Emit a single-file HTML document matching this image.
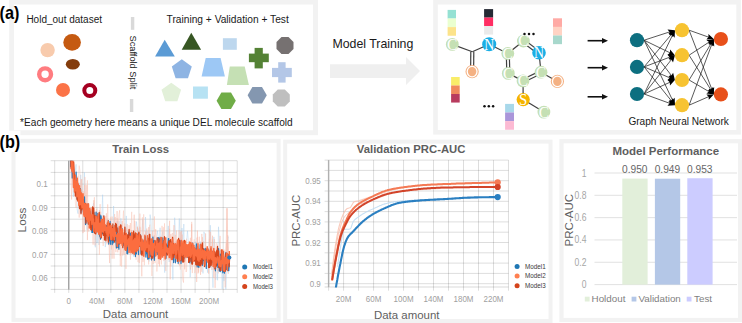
<!DOCTYPE html>
<html><head><meta charset="utf-8"><style>
html,body{margin:0;padding:0;background:#fff;}
body{width:742px;height:323px;overflow:hidden;}
svg{display:block;}
</style></head><body>
<svg width="742" height="323" viewBox="0 0 742 323">
<rect width="742" height="323" fill="#fff"/>
<rect x="11.6" y="2.1" width="303.90" height="130.60" fill="none" stroke="#f2f2f2" stroke-width="4.9"/>
<rect x="435.5" y="2.2" width="303.10" height="130.10" fill="none" stroke="#f2f2f2" stroke-width="4.6"/>
<text x="26.4" y="22.8" font-family='"Liberation Sans", sans-serif' font-size="10" fill="#1a1a1a" font-weight="normal" text-anchor="start" >Hold_out dataset</text>
<text x="166.6" y="22.8" font-family='"Liberation Sans", sans-serif' font-size="10.2" fill="#1a1a1a" font-weight="normal" text-anchor="start" >Training + Validation + Test</text>
<text x="20.1" y="125.9" font-family='"Liberation Sans", sans-serif' font-size="10.12" fill="#1a1a1a" font-weight="normal" text-anchor="start" >*Each geometry here means a unique DEL molecule scaffold</text>
<rect x="130.9" y="17" width="3.4" height="12.8" fill="#d9d9d9"/>
<rect x="129.9" y="99" width="3.4" height="13" fill="#d9d9d9"/>
<text x="0" y="0" transform="translate(129.6,35.5) rotate(90)" font-family='"Liberation Sans", sans-serif' font-size="9.25" fill="#1a1a1a">Scaffold Split</text>
<circle cx="47.6" cy="50.1" r="7.2" fill="#f8cbad"/>
<ellipse cx="72.1" cy="42.4" rx="8.8" ry="8.4" fill="#c55a11"/>
<ellipse cx="72.8" cy="64.3" rx="7" ry="5.3" fill="#843c0c"/>
<circle cx="45.1" cy="74.3" r="5.9" fill="none" stroke="#ff7c80" stroke-width="4.4"/>
<circle cx="63" cy="89.9" r="7" fill="#fb7347"/>
<circle cx="89.8" cy="90.5" r="5.5" fill="none" stroke="#a50021" stroke-width="4"/>
<polygon points="164.70,39.70 155.10,56.40 174.80,56.40" fill="#5b9bd5"/>
<polygon points="191.30,32.70 181.70,49.80 201.10,49.80" fill="#375623"/>
<rect x="222.9" y="38.2" width="13.9" height="11.6" fill="#bdd7ee"/>
<polygon points="293.50,49.02 288.52,54.00 281.48,54.00 276.50,49.02 276.50,41.98 281.48,37.00 288.52,37.00 293.50,41.98" fill="#767171"/>
<polygon points="181.80,59.30 191.79,66.56 187.97,78.29 175.63,78.29 171.81,66.56" fill="#8eb4e3"/>
<polygon points="205.70,58.10 220.60,58.10 224.90,76.60 201.60,76.60" fill="#9dc8f5"/>
<rect x="254.6" y="47.9" width="8.20" height="20.50" fill="#548235"/>
<rect x="248.9" y="53.6" width="19.90" height="8.60" fill="#548235"/>
<polygon points="229.80,66.40 244.70,66.40 248.90,85.00 226.90,85.00" fill="#c5e0b4"/>
<rect x="278.2" y="62.2" width="7.40" height="20.40" fill="#b4c7e7"/>
<rect x="272" y="67.9" width="19.80" height="9.20" fill="#b4c7e7"/>
<polygon points="171.30,82.70 181.10,89.82 177.35,101.33 165.25,101.33 161.50,89.82" fill="#e2f0d9"/>
<rect x="193" y="86.5" width="14.9" height="12.2" fill="#b7e2f3"/>
<polygon points="235.80,100.70 231.00,109.01 221.40,109.01 216.60,100.70 221.40,92.39 231.00,92.39" fill="#70ad47"/>
<polygon points="266.80,95.20 262.00,103.51 252.40,103.51 247.60,95.20 252.40,86.89 262.00,86.89" fill="#8497b0"/>
<polygon points="289.80,101.52 284.82,106.50 277.78,106.50 272.80,101.52 272.80,94.48 277.78,89.50 284.82,89.50 289.80,94.48" fill="#bfbfbf"/>
<polygon points="330.00,64.20 406.00,64.20 406.00,57.00 420.00,71.00 406.00,85.00 406.00,78.00 330.00,78.00" fill="#efefef"/>
<text x="332.4" y="48.1" font-family='"Liberation Sans", sans-serif' font-size="12.35" fill="#1a1a1a" font-weight="normal" text-anchor="start" >Model Training</text>
<line x1="452.3" y1="44.4" x2="472.3" y2="51.7" stroke="#404040" stroke-width="1.2"/>
<line x1="472.3" y1="51.7" x2="489.2" y2="44.2" stroke="#404040" stroke-width="1.2"/>
<line x1="470.8000757499243" y1="51.684925384421355" x2="470.6000757499243" y2="71.58492538442134" stroke="#404040" stroke-width="1.2"/>
<line x1="473.7999242500757" y1="51.71507461557865" x2="473.59992425007573" y2="71.61507461557865" stroke="#404040" stroke-width="1.2"/>
<line x1="489.2" y1="44.2" x2="507.8" y2="53.5" stroke="#404040" stroke-width="1.2"/>
<line x1="507.8" y1="53.5" x2="523.4" y2="41.0" stroke="#404040" stroke-width="1.2"/>
<line x1="522.4950995930648" y1="42.196309012558416" x2="538.0950995930648" y2="53.99630901255841" stroke="#404040" stroke-width="1.2"/>
<line x1="524.3049004069352" y1="39.803690987441584" x2="539.9049004069352" y2="51.60369098744158" stroke="#404040" stroke-width="1.2"/>
<line x1="539.0" y1="52.8" x2="541.0" y2="72.2" stroke="#404040" stroke-width="1.2"/>
<line x1="540.3472470091896" y1="70.84947657073708" x2="522.3472470091896" y2="79.54947657073708" stroke="#404040" stroke-width="1.2"/>
<line x1="541.6527529908104" y1="73.55052342926292" x2="523.6527529908104" y2="82.25052342926293" stroke="#404040" stroke-width="1.2"/>
<line x1="523.0" y1="80.9" x2="508.3" y2="73.4" stroke="#404040" stroke-width="1.2"/>
<line x1="509.79952675116664" y1="73.36232344846316" x2="509.29952675116664" y2="53.46232344846315" stroke="#404040" stroke-width="1.2"/>
<line x1="506.8004732488334" y1="73.43767655153685" x2="506.3004732488334" y2="53.53767655153685" stroke="#404040" stroke-width="1.2"/>
<line x1="541.0" y1="72.2" x2="557.4" y2="81.4" stroke="#404040" stroke-width="1.2"/>
<line x1="523.0" y1="80.9" x2="523.2" y2="99.6" stroke="#404040" stroke-width="1.2"/>
<line x1="523.2" y1="99.6" x2="543.9" y2="112.1" stroke="#404040" stroke-width="1.2"/>
<circle cx="452.3" cy="44.4" r="6.4" fill="#c5e0b4"/>
<text transform="translate(452.3,49.84) scale(0.95,1)" x="0" y="0" font-family='"Liberation Serif", serif' font-size="16.5" fill="#fff" text-anchor="middle">C</text>
<circle cx="507.8" cy="53.5" r="6.4" fill="#c5e0b4"/>
<text transform="translate(507.8,58.95) scale(0.95,1)" x="0" y="0" font-family='"Liberation Serif", serif' font-size="16.5" fill="#fff" text-anchor="middle">C</text>
<circle cx="523.4" cy="41.0" r="6.4" fill="#c5e0b4"/>
<text transform="translate(523.4,46.45) scale(0.95,1)" x="0" y="0" font-family='"Liberation Serif", serif' font-size="16.5" fill="#fff" text-anchor="middle">C</text>
<circle cx="508.3" cy="73.4" r="6.4" fill="#c5e0b4"/>
<text transform="translate(508.3,78.84) scale(0.95,1)" x="0" y="0" font-family='"Liberation Serif", serif' font-size="16.5" fill="#fff" text-anchor="middle">C</text>
<circle cx="523.0" cy="80.9" r="6.4" fill="#c5e0b4"/>
<text transform="translate(523.0,86.34) scale(0.95,1)" x="0" y="0" font-family='"Liberation Serif", serif' font-size="16.5" fill="#fff" text-anchor="middle">C</text>
<circle cx="541.0" cy="72.2" r="6.4" fill="#c5e0b4"/>
<text transform="translate(541.0,77.65) scale(0.95,1)" x="0" y="0" font-family='"Liberation Serif", serif' font-size="16.5" fill="#fff" text-anchor="middle">C</text>
<circle cx="543.9" cy="112.1" r="6.4" fill="#c5e0b4"/>
<text transform="translate(543.9,117.54) scale(0.95,1)" x="0" y="0" font-family='"Liberation Serif", serif' font-size="16.5" fill="#fff" text-anchor="middle">C</text>
<circle cx="489.2" cy="44.2" r="7.0" fill="#1aaee5"/>
<text transform="translate(489.2,49.81) scale(0.82,1)" x="0" y="0" font-family='"Liberation Serif", serif' font-size="17" fill="#fff" text-anchor="middle">N</text>
<circle cx="539.0" cy="52.8" r="6.8" fill="#1aaee5"/>
<text transform="translate(539.0,58.41) scale(0.82,1)" x="0" y="0" font-family='"Liberation Serif", serif' font-size="17" fill="#fff" text-anchor="middle">N</text>
<circle cx="472.1" cy="71.6" r="6.6" fill="#f4b183"/>
<ellipse cx="472.1" cy="71.6" rx="4.9" ry="5.3" fill="none" stroke="#fff" stroke-width="1.3"/>
<circle cx="557.4" cy="81.4" r="6.6" fill="#f4b183"/>
<ellipse cx="557.4" cy="81.4" rx="4.9" ry="5.3" fill="none" stroke="#fff" stroke-width="1.3"/>
<circle cx="523.2" cy="99.6" r="6.6" fill="#f5b400"/>
<text transform="translate(523.2,105.04) scale(0.9,1)" x="0" y="0" font-family='"Liberation Serif", serif' font-size="16.5" fill="#fff" text-anchor="middle">S</text>
<circle cx="524.5" cy="34.1" r="1.25" fill="#111"/>
<circle cx="529" cy="34.1" r="1.25" fill="#111"/>
<circle cx="533.5" cy="34.1" r="1.25" fill="#111"/>
<circle cx="484.5" cy="106.2" r="1.25" fill="#111"/>
<circle cx="488.8" cy="106.2" r="1.25" fill="#111"/>
<circle cx="493.1" cy="106.2" r="1.25" fill="#111"/>
<rect x="447.6" y="9.90" width="8.4" height="8.65" fill="#95e1d3"/>
<rect x="447.6" y="18.50" width="8.4" height="8.65" fill="#eaffd0"/>
<rect x="447.6" y="27.10" width="8.4" height="8.65" fill="#fce38a"/>
<rect x="484.1" y="9.10" width="9.0" height="8.52" fill="#252a34"/>
<rect x="484.1" y="17.57" width="9.0" height="8.52" fill="#ff2e63"/>
<rect x="484.1" y="26.04" width="9.0" height="8.52" fill="#eaeaea"/>
<rect x="451.1" y="77.00" width="8.6" height="8.55" fill="#f9ed69"/>
<rect x="451.1" y="85.50" width="8.6" height="8.55" fill="#f08a5d"/>
<rect x="451.1" y="94.00" width="8.6" height="8.55" fill="#b83b5e"/>
<rect x="505.1" y="103.90" width="8.9" height="8.65" fill="#a8d8ea"/>
<rect x="505.1" y="112.50" width="8.9" height="8.65" fill="#aa96da"/>
<rect x="505.1" y="121.10" width="8.9" height="8.65" fill="#fcbad3"/>
<rect x="553.0" y="18.30" width="9.0" height="8.65" fill="#ffaaa5"/>
<rect x="553.0" y="26.90" width="9.0" height="8.65" fill="#ffd3c4"/>
<rect x="553.0" y="35.50" width="9.0" height="8.65" fill="#a8d8cc"/>
<line x1="587.6" y1="40.7" x2="603" y2="40.7" stroke="#111" stroke-width="1.6"/>
<polygon points="608.00,40.70 602.00,37.90 602.00,43.50" fill="#111"/>
<line x1="587.6" y1="67.7" x2="603" y2="67.7" stroke="#111" stroke-width="1.6"/>
<polygon points="608.00,67.70 602.00,64.90 602.00,70.50" fill="#111"/>
<line x1="587.6" y1="96.8" x2="603" y2="96.8" stroke="#111" stroke-width="1.6"/>
<polygon points="608.00,96.80 602.00,94.00 602.00,99.60" fill="#111"/>
<line x1="644.10" y1="40.20" x2="671.10" y2="31.44" stroke="#222" stroke-width="0.75"/>
<polygon points="674.90,30.20 669.36,35.15 669.57,31.93 667.51,29.45" fill="#000"/>
<line x1="644.10" y1="40.20" x2="671.30" y2="53.45" stroke="#222" stroke-width="0.75"/>
<polygon points="674.90,55.20 667.47,54.92 669.87,52.75 670.10,49.53" fill="#000"/>
<line x1="644.10" y1="40.20" x2="672.45" y2="76.84" stroke="#222" stroke-width="0.75"/>
<polygon points="674.90,80.00 668.37,76.46 671.47,75.57 673.11,72.79" fill="#000"/>
<line x1="644.10" y1="40.20" x2="673.19" y2="101.59" stroke="#222" stroke-width="0.75"/>
<polygon points="674.90,105.20 669.28,100.34 672.50,100.14 674.70,97.77" fill="#000"/>
<line x1="644.10" y1="66.90" x2="672.33" y2="33.26" stroke="#222" stroke-width="0.75"/>
<polygon points="674.90,30.20 672.83,37.34 671.30,34.49 668.23,33.48" fill="#000"/>
<line x1="644.10" y1="66.90" x2="671.16" y2="56.62" stroke="#222" stroke-width="0.75"/>
<polygon points="674.90,55.20 669.61,60.42 669.66,57.19 667.48,54.81" fill="#000"/>
<line x1="644.10" y1="66.90" x2="671.22" y2="78.43" stroke="#222" stroke-width="0.75"/>
<polygon points="674.90,80.00 667.47,80.10 669.75,77.81 669.82,74.58" fill="#000"/>
<line x1="644.10" y1="66.90" x2="672.39" y2="102.08" stroke="#222" stroke-width="0.75"/>
<polygon points="674.90,105.20 668.30,101.78 671.39,100.84 672.98,98.02" fill="#000"/>
<line x1="644.10" y1="94.00" x2="673.16" y2="33.80" stroke="#222" stroke-width="0.75"/>
<polygon points="674.90,30.20 674.65,37.63 672.47,35.24 669.24,35.02" fill="#000"/>
<line x1="644.10" y1="94.00" x2="672.41" y2="58.33" stroke="#222" stroke-width="0.75"/>
<polygon points="674.90,55.20 673.02,62.39 671.42,59.59 668.32,58.66" fill="#000"/>
<line x1="644.10" y1="94.00" x2="671.26" y2="81.66" stroke="#222" stroke-width="0.75"/>
<polygon points="674.90,80.00 669.95,85.54 669.80,82.32 667.47,80.08" fill="#000"/>
<line x1="644.10" y1="94.00" x2="671.14" y2="103.83" stroke="#222" stroke-width="0.75"/>
<polygon points="674.90,105.20 667.48,105.70 669.64,103.29 669.53,100.06" fill="#000"/>
<line x1="689.10" y1="30.20" x2="710.03" y2="37.66" stroke="#222" stroke-width="0.75"/>
<polygon points="713.80,39.00 706.39,39.54 708.52,37.12 708.40,33.89" fill="#000"/>
<line x1="689.10" y1="30.20" x2="712.36" y2="90.67" stroke="#222" stroke-width="0.75"/>
<polygon points="713.80,94.40 708.56,89.13 711.79,89.17 714.16,86.98" fill="#000"/>
<line x1="689.10" y1="55.20" x2="710.46" y2="41.19" stroke="#222" stroke-width="0.75"/>
<polygon points="713.80,39.00 709.76,45.24 709.12,42.07 706.47,40.22" fill="#000"/>
<line x1="689.10" y1="55.20" x2="711.67" y2="91.02" stroke="#222" stroke-width="0.75"/>
<polygon points="713.80,94.40 707.64,90.25 710.81,89.66 712.71,87.05" fill="#000"/>
<line x1="689.10" y1="80.00" x2="711.74" y2="42.43" stroke="#222" stroke-width="0.75"/>
<polygon points="713.80,39.00 712.86,46.37 710.91,43.80 707.72,43.28" fill="#000"/>
<line x1="689.10" y1="80.00" x2="710.34" y2="92.39" stroke="#222" stroke-width="0.75"/>
<polygon points="713.80,94.40 706.41,93.57 708.96,91.58 709.44,88.38" fill="#000"/>
<line x1="689.10" y1="105.20" x2="712.40" y2="42.75" stroke="#222" stroke-width="0.75"/>
<polygon points="713.80,39.00 714.23,46.42 711.84,44.25 708.61,44.32" fill="#000"/>
<line x1="689.10" y1="105.20" x2="710.14" y2="96.00" stroke="#222" stroke-width="0.75"/>
<polygon points="713.80,94.40 708.77,99.87 708.67,96.64 706.37,94.38" fill="#000"/>
<circle cx="637.0" cy="40.2" r="7.1" fill="#0d6f80"/>
<circle cx="637.0" cy="66.9" r="7.1" fill="#0d6f80"/>
<circle cx="637.0" cy="94.0" r="7.1" fill="#0d6f80"/>
<circle cx="682.0" cy="30.2" r="7.1" fill="#f7c331"/>
<circle cx="682.0" cy="55.2" r="7.1" fill="#f7c331"/>
<circle cx="682.0" cy="80.0" r="7.1" fill="#f7c331"/>
<circle cx="682.0" cy="105.2" r="7.1" fill="#f7c331"/>
<circle cx="720.9" cy="39.0" r="7.1" fill="#e8501a"/>
<circle cx="720.9" cy="94.4" r="7.1" fill="#e8501a"/>
<text x="628.4" y="125.1" font-family='"Liberation Sans", sans-serif' font-size="10.1" fill="#1a1a1a" font-weight="normal" text-anchor="start" >Graph Neural Network</text>
<rect x="13.5" y="140.8" width="265.10" height="179.10" fill="none" stroke="#f2f2f2" stroke-width="4"/>
<rect x="285.2" y="141.6" width="265.30" height="179.40" fill="none" stroke="#f2f2f2" stroke-width="4"/>
<rect x="561.5" y="141.2" width="178.60" height="178.80" fill="none" stroke="#f2f2f2" stroke-width="4.2"/>
<line x1="54.70" y1="160.7" x2="54.70" y2="292.9" stroke="#000" stroke-opacity="0.16" stroke-width="0.85"/>
<line x1="68.74" y1="160.7" x2="68.74" y2="292.9" stroke="#000" stroke-opacity="0.16" stroke-width="0.85"/>
<line x1="82.78" y1="160.7" x2="82.78" y2="292.9" stroke="#000" stroke-opacity="0.16" stroke-width="0.85"/>
<line x1="96.82" y1="160.7" x2="96.82" y2="292.9" stroke="#000" stroke-opacity="0.16" stroke-width="0.85"/>
<line x1="110.86" y1="160.7" x2="110.86" y2="292.9" stroke="#000" stroke-opacity="0.16" stroke-width="0.85"/>
<line x1="124.90" y1="160.7" x2="124.90" y2="292.9" stroke="#000" stroke-opacity="0.16" stroke-width="0.85"/>
<line x1="138.94" y1="160.7" x2="138.94" y2="292.9" stroke="#000" stroke-opacity="0.16" stroke-width="0.85"/>
<line x1="152.98" y1="160.7" x2="152.98" y2="292.9" stroke="#000" stroke-opacity="0.16" stroke-width="0.85"/>
<line x1="167.02" y1="160.7" x2="167.02" y2="292.9" stroke="#000" stroke-opacity="0.16" stroke-width="0.85"/>
<line x1="181.06" y1="160.7" x2="181.06" y2="292.9" stroke="#000" stroke-opacity="0.16" stroke-width="0.85"/>
<line x1="195.10" y1="160.7" x2="195.10" y2="292.9" stroke="#000" stroke-opacity="0.16" stroke-width="0.85"/>
<line x1="209.14" y1="160.7" x2="209.14" y2="292.9" stroke="#000" stroke-opacity="0.16" stroke-width="0.85"/>
<line x1="223.18" y1="160.7" x2="223.18" y2="292.9" stroke="#000" stroke-opacity="0.16" stroke-width="0.85"/>
<line x1="237.22" y1="160.7" x2="237.22" y2="292.9" stroke="#000" stroke-opacity="0.16" stroke-width="0.85"/>
<line x1="50.7" y1="160.70" x2="237.2" y2="160.70" stroke="#000" stroke-opacity="0.16" stroke-width="0.85"/>
<line x1="50.7" y1="172.40" x2="237.2" y2="172.40" stroke="#000" stroke-opacity="0.16" stroke-width="0.85"/>
<line x1="50.7" y1="184.10" x2="237.2" y2="184.10" stroke="#000" stroke-opacity="0.16" stroke-width="0.85"/>
<line x1="50.7" y1="195.80" x2="237.2" y2="195.80" stroke="#000" stroke-opacity="0.16" stroke-width="0.85"/>
<line x1="50.7" y1="207.50" x2="237.2" y2="207.50" stroke="#000" stroke-opacity="0.16" stroke-width="0.85"/>
<line x1="50.7" y1="219.20" x2="237.2" y2="219.20" stroke="#000" stroke-opacity="0.16" stroke-width="0.85"/>
<line x1="50.7" y1="230.90" x2="237.2" y2="230.90" stroke="#000" stroke-opacity="0.16" stroke-width="0.85"/>
<line x1="50.7" y1="242.60" x2="237.2" y2="242.60" stroke="#000" stroke-opacity="0.16" stroke-width="0.85"/>
<line x1="50.7" y1="254.30" x2="237.2" y2="254.30" stroke="#000" stroke-opacity="0.16" stroke-width="0.85"/>
<line x1="50.7" y1="266.00" x2="237.2" y2="266.00" stroke="#000" stroke-opacity="0.16" stroke-width="0.85"/>
<line x1="50.7" y1="277.70" x2="237.2" y2="277.70" stroke="#000" stroke-opacity="0.16" stroke-width="0.85"/>
<line x1="50.7" y1="289.4" x2="237.2" y2="289.4" stroke="#000" stroke-opacity="0.17" stroke-width="0.9"/>
<line x1="68.7" y1="160.7" x2="68.7" y2="289.4" stroke="#a4a4a4" stroke-width="1.4"/>
<text transform="translate(47.60,187.40) scale(1,1.15)" x="0" y="0" font-family='"Liberation Sans", sans-serif' font-size="8" fill="#a0a0a0" text-anchor="end">0.1</text>
<text transform="translate(47.60,210.80) scale(1,1.15)" x="0" y="0" font-family='"Liberation Sans", sans-serif' font-size="8" fill="#a0a0a0" text-anchor="end">0.09</text>
<text transform="translate(47.60,234.20) scale(1,1.15)" x="0" y="0" font-family='"Liberation Sans", sans-serif' font-size="8" fill="#a0a0a0" text-anchor="end">0.08</text>
<text transform="translate(47.60,257.60) scale(1,1.15)" x="0" y="0" font-family='"Liberation Sans", sans-serif' font-size="8" fill="#a0a0a0" text-anchor="end">0.07</text>
<text transform="translate(47.60,281.00) scale(1,1.15)" x="0" y="0" font-family='"Liberation Sans", sans-serif' font-size="8" fill="#a0a0a0" text-anchor="end">0.06</text>
<text transform="translate(68.70,303.70) scale(1,1.15)" x="0" y="0" font-family='"Liberation Sans", sans-serif' font-size="8" fill="#a0a0a0" text-anchor="middle">0</text>
<text transform="translate(96.78,303.70) scale(1,1.15)" x="0" y="0" font-family='"Liberation Sans", sans-serif' font-size="8" fill="#a0a0a0" text-anchor="middle">40M</text>
<text transform="translate(124.86,303.70) scale(1,1.15)" x="0" y="0" font-family='"Liberation Sans", sans-serif' font-size="8" fill="#a0a0a0" text-anchor="middle">80M</text>
<text transform="translate(152.94,303.70) scale(1,1.15)" x="0" y="0" font-family='"Liberation Sans", sans-serif' font-size="8" fill="#a0a0a0" text-anchor="middle">120M</text>
<text transform="translate(181.02,303.70) scale(1,1.15)" x="0" y="0" font-family='"Liberation Sans", sans-serif' font-size="8" fill="#a0a0a0" text-anchor="middle">160M</text>
<text transform="translate(209.10,303.70) scale(1,1.15)" x="0" y="0" font-family='"Liberation Sans", sans-serif' font-size="8" fill="#a0a0a0" text-anchor="middle">200M</text>
<text x="112.2" y="153.0" font-family='"Liberation Sans", sans-serif' font-size="11.4" fill="#5e5e5e" font-weight="bold" text-anchor="start" >Train Loss</text>
<text x="102.8" y="318.0" font-family='"Liberation Sans", sans-serif' font-size="11.45" fill="#5e5e5e" font-weight="normal" text-anchor="start" >Data amount</text>
<text x="0" y="0" transform="translate(25.9,232.4) rotate(-90)" font-family='"Liberation Sans", sans-serif' font-size="11.8" fill="#5e5e5e">Loss</text>
<clipPath id="c1"><rect x="54.7" y="160.7" width="182.5" height="128.7"/></clipPath>
<g clip-path="url(#c1)">
<polyline points="69.8,166.2 70.7,145.5 71.6,141.4 72.5,176.6 73.4,196.8 74.3,177.0 75.2,171.6 76.1,164.4 77.1,209.3 78.0,213.7 78.9,182.7 79.8,190.3 80.7,174.8 81.6,185.9 82.5,205.3 83.4,209.8 84.4,172.3 85.3,213.4 86.2,222.8 87.1,229.9 88.0,212.6 88.9,212.7 89.8,221.0 90.7,217.6 91.7,213.5 92.6,208.2 93.5,203.2 94.4,217.2 95.3,247.3 96.2,211.5 97.1,243.0 98.0,225.5 99.0,245.0 99.9,224.3 100.8,236.2 101.7,222.5 102.6,194.7 103.5,227.6 104.4,215.5 105.3,247.1 106.3,232.9 107.2,219.8 108.1,231.0 109.0,224.9 109.9,229.2 110.8,245.4 111.7,223.6 112.6,243.6 113.6,206.0 114.5,240.1 115.4,223.7 116.3,233.9 117.2,220.9 118.1,243.4 119.0,221.2 119.9,237.5 120.9,218.4 121.8,227.9 122.7,235.2 123.6,248.6 124.5,227.2 125.4,232.0 126.3,215.9 127.2,244.9 128.2,232.3 129.1,233.4 130.0,237.1 130.9,238.7 131.8,239.3 132.7,250.5 133.6,256.6 134.5,248.1 135.5,234.3 136.4,221.5 137.3,229.2 138.2,228.4 139.1,232.4 140.0,233.7 140.9,241.2 141.8,233.1 142.8,219.1 143.7,249.0 144.6,254.3 145.5,217.1 146.4,241.5 147.3,231.4 148.2,233.0 149.1,261.5 150.1,214.6 151.0,220.8 151.9,243.5 152.8,235.6 153.7,244.5 154.6,258.9 155.5,248.1 156.4,241.3 157.4,230.9 158.3,236.7 159.2,246.0 160.1,227.8 161.0,257.7 161.9,235.9 162.8,231.5 163.8,251.4 164.7,272.6 165.6,260.2 166.5,244.2 167.4,240.2 168.3,225.9 169.2,262.0 170.1,248.0 171.1,239.0 172.0,250.5 172.9,279.5 173.8,237.2 174.7,217.7 175.6,234.7 176.5,262.0 177.4,255.0 178.4,246.2 179.3,218.5 180.2,240.9 181.1,248.2 182.0,228.0 182.9,251.2 183.8,224.0 184.7,260.1 185.7,257.3 186.6,240.6 187.5,230.9 188.4,242.0 189.3,247.1 190.2,277.2 191.1,261.8 192.0,260.5 193.0,259.6 193.9,244.0 194.8,257.2 195.7,241.6 196.6,251.7 197.5,257.8 198.4,251.6 199.3,247.4 200.3,241.5 201.2,260.5 202.1,257.3 203.0,273.4 203.9,231.8 204.8,234.2 205.7,257.4 206.6,261.8 207.6,272.7 208.5,253.1 209.4,252.8 210.3,225.2 211.2,252.7 212.1,267.3 213.0,287.6 213.9,236.9 214.9,254.3 215.8,279.9 216.7,254.9 217.6,280.3 218.5,226.8 219.4,242.3 220.3,250.2 221.2,261.0 222.2,288.9 223.1,260.7 224.0,281.1 224.9,251.0 225.8,289.6 226.7,272.4 227.6,242.5 228.5,236.6" fill="none" stroke="#a9cfee" stroke-width="0.8" stroke-opacity="0.5" stroke-linejoin="round"/>
<polyline points="69.8,169.9 70.4,144.4 71.0,164.4 71.6,171.5 72.3,146.6 72.9,167.3 73.5,176.9 74.2,142.0 74.8,187.2 75.4,203.9 76.1,208.0 76.7,195.5 77.3,177.6 78.0,176.9 78.6,174.7 79.2,165.7 79.9,170.5 80.5,189.1 81.1,179.4 81.8,191.4 82.4,211.7 83.0,191.1 83.7,204.2 84.3,209.5 84.9,176.9 85.5,196.9 86.2,217.1 86.8,212.2 87.4,180.3 88.1,217.0 88.7,203.0 89.3,205.4 90.0,207.6 90.6,207.1 91.2,223.4 91.9,223.7 92.5,219.9 93.1,223.4 93.8,207.2 94.4,197.2 95.0,232.9 95.7,212.7 96.3,235.0 96.9,231.3 97.6,225.3 98.2,220.8 98.8,229.0 99.4,254.8 100.1,204.1 100.7,228.0 101.3,233.6 102.0,215.4 102.6,233.9 103.2,246.0 103.9,219.5 104.5,221.0 105.1,238.9 105.8,216.0 106.4,222.9 107.0,244.3 107.7,204.3 108.3,225.3 108.9,245.2 109.6,223.4 110.2,228.3 110.8,216.8 111.5,249.5 112.1,216.5 112.7,218.2 113.3,222.0 114.0,223.5 114.6,214.0 115.2,222.6 115.9,231.2 116.5,244.9 117.1,218.2 117.8,220.3 118.4,230.1 119.0,232.4 119.7,224.9 120.3,266.0 120.9,231.1 121.6,266.6 122.2,232.8 122.8,221.9 123.5,210.6 124.1,243.7 124.7,231.5 125.4,238.8 126.0,268.9 126.6,228.5 127.2,239.1 127.9,238.3 128.5,252.7 129.1,240.5 129.8,239.2 130.4,223.0 131.0,237.0 131.7,211.9 132.3,247.0 132.9,245.1 133.6,242.3 134.2,253.0 134.8,221.0 135.5,233.1 136.1,259.7 136.7,240.8 137.4,226.5 138.0,262.1 138.6,240.6 139.3,246.1 139.9,213.6 140.5,237.3 141.1,248.8 141.8,251.1 142.4,217.3 143.0,250.0 143.7,214.3 144.3,265.4 144.9,246.6 145.6,247.4 146.2,253.9 146.8,247.3 147.5,234.9 148.1,253.8 148.7,264.5 149.4,226.3 150.0,224.7 150.6,254.7 151.3,241.0 151.9,276.0 152.5,231.1 153.2,264.0 153.8,253.3 154.4,216.4 155.0,263.2 155.7,245.6 156.3,260.7 156.9,271.5 157.6,262.1 158.2,242.4 158.8,264.2 159.5,254.4 160.1,236.2 160.7,248.5 161.4,264.5 162.0,225.8 162.6,244.8 163.3,227.2 163.9,261.1 164.5,223.4 165.2,265.4 165.8,270.9 166.4,252.7 167.1,252.1 167.7,243.4 168.3,254.8 168.9,238.4 169.6,228.8 170.2,256.4 170.8,266.5 171.5,253.1 172.1,236.4 172.7,236.5 173.4,252.7 174.0,261.6 174.6,248.4 175.3,234.9 175.9,258.2 176.5,230.5 177.2,245.4 177.8,244.6 178.4,257.4 179.1,230.0 179.7,248.4 180.3,269.6 180.9,237.8 181.6,255.1 182.2,234.5 182.8,247.1 183.5,258.2 184.1,247.3 184.7,256.6 185.4,261.4 186.0,249.8 186.6,238.7 187.3,249.4 187.9,251.7 188.5,258.3 189.2,242.8 189.8,247.1 190.4,237.8 191.1,246.1 191.7,221.9 192.3,273.1 193.0,252.3 193.6,244.3 194.2,239.4 194.8,273.1 195.5,268.9 196.1,252.8 196.7,237.8 197.4,237.3 198.0,273.5 198.6,250.9 199.3,236.7 199.9,252.6 200.5,267.3 201.2,263.1 201.8,271.8 202.4,237.0 203.1,257.2 203.7,259.7 204.3,266.0 205.0,256.0 205.6,266.8 206.2,267.9 206.9,255.1 207.5,257.9 208.1,248.5 208.7,253.0 209.4,238.8 210.0,255.9 210.6,251.8 211.3,252.5 211.9,266.9 212.5,239.5 213.2,263.8 213.8,278.0 214.4,239.1 215.1,247.5 215.7,264.4 216.3,243.6 217.0,243.6 217.6,247.4 218.2,273.4 218.9,254.9 219.5,271.8 220.1,266.1 220.8,265.6 221.4,269.7 222.0,251.3 222.6,269.1 223.3,249.9 223.9,256.2 224.5,267.1 225.2,256.5 225.8,249.4 226.4,243.2 227.1,262.6 227.7,235.2 228.3,251.3 229.0,242.1" fill="none" stroke="#f9c0b0" stroke-width="0.8" stroke-opacity="0.5" stroke-linejoin="round"/>
<polyline points="69.8,143.8 70.4,120.4 71.0,176.9 71.6,199.5 72.3,162.2 72.9,158.3 73.5,166.1 74.2,166.9 74.8,181.6 75.4,193.2 76.1,198.3 76.7,191.1 77.3,196.2 78.0,176.4 78.6,184.1 79.2,217.6 79.9,187.8 80.5,201.0 81.1,183.9 81.8,179.1 82.4,195.4 83.0,233.1 83.7,196.4 84.3,231.8 84.9,184.9 85.5,220.2 86.2,214.2 86.8,185.1 87.4,240.1 88.1,214.4 88.7,231.4 89.3,223.8 90.0,228.5 90.6,207.3 91.2,222.4 91.9,213.5 92.5,209.9 93.1,244.6 93.8,200.2 94.4,224.6 95.0,245.4 95.7,231.5 96.3,210.1 96.9,208.7 97.6,233.2 98.2,222.4 98.8,220.9 99.4,210.1 100.1,227.1 100.7,211.8 101.3,238.7 102.0,236.8 102.6,217.6 103.2,217.3 103.9,228.6 104.5,219.9 105.1,225.9 105.8,218.5 106.4,213.3 107.0,222.6 107.7,218.7 108.3,236.1 108.9,238.7 109.6,263.1 110.2,225.8 110.8,231.4 111.5,224.7 112.1,258.7 112.7,239.6 113.3,241.0 114.0,258.7 114.6,221.1 115.2,217.1 115.9,252.2 116.5,228.6 117.1,211.0 117.8,252.3 118.4,221.9 119.0,213.9 119.7,210.3 120.3,255.7 120.9,251.9 121.6,234.4 122.2,220.9 122.8,255.5 123.5,248.8 124.1,254.2 124.7,223.5 125.4,247.1 126.0,231.6 126.6,231.0 127.2,224.1 127.9,234.9 128.5,236.3 129.1,225.2 129.8,235.1 130.4,259.7 131.0,250.0 131.7,230.0 132.3,240.8 132.9,247.8 133.6,239.6 134.2,214.7 134.8,244.0 135.5,236.7 136.1,237.1 136.7,247.5 137.4,227.1 138.0,231.9 138.6,238.5 139.3,263.1 139.9,226.7 140.5,233.7 141.1,245.7 141.8,276.3 142.4,245.7 143.0,261.9 143.7,248.3 144.3,252.4 144.9,257.0 145.6,231.3 146.2,244.0 146.8,228.5 147.5,259.4 148.1,248.7 148.7,227.1 149.4,241.7 150.0,256.6 150.6,259.0 151.3,255.0 151.9,248.0 152.5,237.3 153.2,245.0 153.8,236.5 154.4,235.4 155.0,245.5 155.7,229.2 156.3,237.0 156.9,250.0 157.6,249.8 158.2,247.8 158.8,257.9 159.5,266.4 160.1,247.2 160.7,254.9 161.4,239.6 162.0,256.2 162.6,246.6 163.3,245.2 163.9,254.6 164.5,245.4 165.2,258.3 165.8,254.2 166.4,237.1 167.1,242.9 167.7,248.5 168.3,259.5 168.9,238.9 169.6,220.8 170.2,279.3 170.8,234.2 171.5,246.0 172.1,233.8 172.7,232.9 173.4,263.6 174.0,225.1 174.6,257.9 175.3,253.2 175.9,241.0 176.5,251.1 177.2,246.3 177.8,257.3 178.4,264.7 179.1,250.1 179.7,265.7 180.3,231.7 180.9,247.2 181.6,231.1 182.2,268.3 182.8,280.0 183.5,282.5 184.1,256.5 184.7,269.3 185.4,246.4 186.0,272.0 186.6,271.1 187.3,247.9 187.9,257.5 188.5,242.6 189.2,240.9 189.8,247.4 190.4,269.5 191.1,264.7 191.7,224.2 192.3,256.1 193.0,248.9 193.6,251.4 194.2,253.6 194.8,255.8 195.5,261.4 196.1,260.9 196.7,282.0 197.4,230.6 198.0,255.6 198.6,272.5 199.3,247.1 199.9,245.1 200.5,274.8 201.2,262.0 201.8,233.9 202.4,247.4 203.1,249.2 203.7,241.3 204.3,257.3 205.0,259.7 205.6,233.4 206.2,258.4 206.9,257.1 207.5,247.2 208.1,255.8 208.7,273.7 209.4,230.2 210.0,257.8 210.6,231.8 211.3,250.0 211.9,269.9 212.5,235.7 213.2,259.9 213.8,269.7 214.4,258.2 215.1,287.9 215.7,252.4 216.3,268.4 217.0,261.9 217.6,271.0 218.2,249.2 218.9,253.8 219.5,243.9 220.1,235.9 220.8,255.4 221.4,258.1 222.0,255.3 222.6,271.1 223.3,267.5 223.9,249.5 224.5,272.2 225.2,287.4 225.8,265.3 226.4,256.9 227.1,240.0 227.7,270.6 228.3,273.7 229.0,259.4" fill="none" stroke="#f7b6a4" stroke-width="0.8" stroke-opacity="0.5" stroke-linejoin="round"/>
<polyline points="225.9,260.7 227.0,208.2 228.1,260.9" fill="none" stroke="#f7b6a4" stroke-width="0.9" stroke-opacity="0.7" stroke-linejoin="round"/>
<polyline points="69.8,133.8 70.1,133.6 70.5,160.4 70.8,166.6 71.2,158.1 71.5,146.9 71.9,161.3 72.2,178.1 72.6,176.1 72.9,171.1 73.3,163.7 73.6,174.3 74.0,179.3 74.3,179.9 74.7,178.1 75.0,188.0 75.4,183.2 75.7,182.4 76.1,172.0 76.4,187.9 76.8,180.6 77.1,198.7 77.5,184.3 77.8,191.5 78.2,198.6 78.5,195.7 78.9,189.5 79.2,200.8 79.6,191.3 79.9,188.7 80.3,188.7 80.6,189.4 81.0,212.8 81.3,200.9 81.7,209.5 82.0,197.6 82.4,204.9 82.7,204.5 83.1,203.3 83.4,212.0 83.8,207.4 84.1,214.2 84.5,196.8 84.8,213.6 85.2,210.7 85.5,224.6 85.9,223.1 86.2,219.0 86.6,207.6 87.0,208.5 87.3,212.8 87.7,220.1 88.0,203.8 88.4,223.9 88.7,223.0 89.1,213.7 89.4,224.6 89.8,215.9 90.1,211.3 90.5,219.0 90.8,216.0 91.2,218.9 91.5,224.3 91.9,232.4 92.2,228.8 92.6,220.6 92.9,232.5 93.3,225.2 93.6,220.1 94.0,212.6 94.3,231.8 94.7,226.3 95.0,221.4 95.4,219.5 95.7,233.1 96.1,212.0 96.4,229.6 96.8,216.7 97.1,225.9 97.5,221.9 97.8,213.4 98.2,220.3 98.5,224.6 98.9,232.7 99.2,230.5 99.6,236.1 99.9,214.8 100.3,237.4 100.6,239.1 101.0,215.9 101.3,218.7 101.7,230.2 102.0,222.2 102.4,233.9 102.7,232.4 103.1,225.3 103.4,226.3 103.8,232.4 104.2,218.4 104.5,224.7 104.9,229.0 105.2,238.3 105.6,229.5 105.9,232.9 106.3,231.4 106.6,225.6 107.0,235.2 107.3,229.6 107.7,226.2 108.0,229.4 108.4,220.5 108.7,244.1 109.1,232.8 109.4,240.6 109.8,233.2 110.1,221.4 110.5,244.2 110.8,235.2 111.2,229.0 111.5,233.0 111.9,227.6 112.2,244.6 112.6,227.5 112.9,240.8 113.3,242.8 113.6,230.8 114.0,231.6 114.3,240.0 114.7,240.8 115.0,236.8 115.4,235.7 115.7,236.9 116.1,242.9 116.4,248.0 116.8,227.4 117.1,235.3 117.5,245.1 117.8,247.5 118.2,241.8 118.5,240.1 118.9,249.2 119.2,228.1 119.6,234.9 119.9,240.2 120.3,235.8 120.6,236.8 121.0,231.3 121.3,237.6 121.7,230.3 122.1,228.6 122.4,241.3 122.8,242.5 123.1,245.6 123.5,241.3 123.8,244.9 124.2,240.1 124.5,238.2 124.9,236.8 125.2,248.5 125.6,233.5 125.9,243.2 126.3,242.0 126.6,245.0 127.0,253.4 127.3,240.1 127.7,253.8 128.0,234.8 128.4,242.2 128.7,232.1 129.1,238.5 129.4,238.3 129.8,233.8 130.1,243.7 130.5,233.2 130.8,244.7 131.2,242.3 131.5,248.7 131.9,240.5 132.2,239.7 132.6,247.7 132.9,253.1 133.3,244.7 133.6,241.7 134.0,245.7 134.3,251.3 134.7,249.7 135.0,246.6 135.4,256.6 135.7,249.0 136.1,235.3 136.4,253.8 136.8,246.7 137.1,233.8 137.5,240.5 137.8,239.2 138.2,246.5 138.5,254.6 138.9,234.1 139.3,243.7 139.6,244.2 140.0,234.7 140.3,240.4 140.7,245.6 141.0,253.6 141.4,247.2 141.7,247.2 142.1,250.9 142.4,252.2 142.8,253.2 143.1,247.3 143.5,250.6 143.8,243.9 144.2,239.9 144.5,244.7 144.9,246.7 145.2,236.4 145.6,242.6 145.9,257.1 146.3,252.0 146.6,245.9 147.0,253.3 147.3,242.3 147.7,259.1 148.0,259.2 148.4,241.0 148.7,243.7 149.1,258.6 149.4,247.3 149.8,238.8 150.1,255.5 150.5,256.1 150.8,256.4 151.2,254.9 151.5,259.9 151.9,251.6 152.2,258.3 152.6,248.1 152.9,237.0 153.3,255.7 153.6,242.5 154.0,240.7 154.3,260.3 154.7,248.0 155.0,248.8 155.4,251.1 155.7,243.4 156.1,251.9 156.4,246.5 156.8,251.6 157.2,249.9 157.5,254.3 157.9,237.5 158.2,249.5 158.6,256.7 158.9,237.6 159.3,238.5 159.6,250.5 160.0,253.7 160.3,254.3 160.7,240.9 161.0,251.6 161.4,254.2 161.7,243.7 162.1,251.3 162.4,249.8 162.8,237.9 163.1,243.7 163.5,241.1 163.8,246.8 164.2,240.9 164.5,250.8 164.9,243.2 165.2,242.6 165.6,252.6 165.9,258.5 166.3,246.2 166.6,250.7 167.0,245.8 167.3,254.0 167.7,246.4 168.0,243.5 168.4,238.5 168.7,238.5 169.1,247.5 169.4,240.5 169.8,254.5 170.1,242.4 170.5,249.5 170.8,241.4 171.2,248.2 171.5,252.1 171.9,255.4 172.2,242.2 172.6,250.3 172.9,246.0 173.3,247.6 173.6,262.5 174.0,246.9 174.4,253.6 174.7,248.4 175.1,247.9 175.4,262.8 175.8,253.4 176.1,251.7 176.5,248.7 176.8,245.0 177.2,256.1 177.5,253.1 177.9,247.4 178.2,263.3 178.6,240.1 178.9,258.2 179.3,242.9 179.6,250.9 180.0,240.4 180.3,244.9 180.7,252.3 181.0,263.6 181.4,251.3 181.7,250.0 182.1,248.6 182.4,260.9 182.8,258.0 183.1,257.8 183.5,250.6 183.8,258.5 184.2,253.4 184.5,246.4 184.9,255.6 185.2,243.7 185.6,250.9 185.9,254.7 186.3,245.7 186.6,249.8 187.0,255.2 187.3,257.3 187.7,253.7 188.0,251.1 188.4,245.8 188.7,251.8 189.1,257.9 189.4,262.7 189.8,252.1 190.1,251.2 190.5,246.3 190.8,257.6 191.2,262.9 191.6,248.5 191.9,255.4 192.3,262.6 192.6,243.1 193.0,248.4 193.3,254.1 193.7,252.7 194.0,259.7 194.4,248.0 194.7,257.8 195.1,257.9 195.4,257.0 195.8,262.7 196.1,248.1 196.5,243.9 196.8,250.1 197.2,266.9 197.5,257.5 197.9,259.8 198.2,253.0 198.6,267.2 198.9,267.3 199.3,258.9 199.6,249.2 200.0,257.2 200.3,244.4 200.7,261.8 201.0,255.9 201.4,257.2 201.7,261.9 202.1,248.8 202.4,265.4 202.8,263.7 203.1,259.0 203.5,259.9 203.8,249.1 204.2,260.4 204.5,253.5 204.9,260.2 205.2,248.4 205.6,257.3 205.9,255.5 206.3,268.4 206.6,252.6 207.0,261.8 207.3,251.6 207.7,254.2 208.0,254.1 208.4,250.2 208.7,255.4 209.1,263.9 209.5,257.0 209.8,257.0 210.2,266.2 210.5,254.2 210.9,248.5 211.2,256.8 211.6,257.8 211.9,255.5 212.3,251.3 212.6,262.5 213.0,252.4 213.3,264.0 213.7,255.5 214.0,255.6 214.4,267.9 214.7,254.9 215.1,257.9 215.4,270.8 215.8,262.6 216.1,263.9 216.5,265.8 216.8,257.0 217.2,265.2 217.5,259.6 217.9,267.4 218.2,261.9 218.6,248.6 218.9,257.5 219.3,270.9 219.6,266.8 220.0,261.5 220.3,271.6 220.7,254.1 221.0,261.1 221.4,261.4 221.7,260.6 222.1,265.7 222.4,268.9 222.8,272.8 223.1,272.3 223.5,259.8 223.8,256.8 224.2,262.8 224.5,273.2 224.9,264.0 225.2,261.5 225.6,270.6 225.9,252.6 226.3,269.5 226.6,261.9 227.0,269.3 227.4,255.9 227.7,270.6 228.1,268.2 228.4,254.6 228.8,270.7 229.1,265.8 229.5,258.6" fill="none" stroke="#2a78b8" stroke-width="1.2" stroke-opacity="1" stroke-linejoin="round"/>
<polyline points="69.8,122.2 70.1,156.9 70.5,147.4 70.8,158.7 71.2,168.8 71.5,167.5 71.9,168.7 72.2,166.4 72.6,163.5 72.9,159.4 73.3,168.9 73.6,162.5 74.0,170.6 74.3,175.6 74.7,180.4 75.0,188.9 75.4,196.0 75.7,184.3 76.1,186.4 76.4,183.5 76.8,184.8 77.1,199.7 77.5,196.3 77.8,201.0 78.2,184.7 78.5,195.3 78.9,194.7 79.2,204.4 79.6,208.7 79.9,204.5 80.3,201.3 80.6,197.4 81.0,213.8 81.3,199.9 81.7,209.8 82.0,207.8 82.4,207.0 82.7,208.4 83.1,202.2 83.4,199.7 83.8,204.5 84.1,211.8 84.5,205.3 84.8,206.3 85.2,203.3 85.5,208.4 85.9,223.1 86.2,217.3 86.6,215.4 87.0,206.3 87.3,214.7 87.7,207.7 88.0,212.9 88.4,224.0 88.7,215.4 89.1,212.1 89.4,213.5 89.8,227.4 90.1,214.0 90.5,221.6 90.8,229.6 91.2,222.2 91.5,230.2 91.9,227.8 92.2,208.9 92.6,206.8 92.9,212.3 93.3,217.1 93.6,207.8 94.0,218.4 94.3,228.0 94.7,233.1 95.0,215.5 95.4,233.6 95.7,233.9 96.1,227.1 96.4,222.4 96.8,229.1 97.1,216.1 97.5,224.2 97.8,222.4 98.2,221.0 98.5,228.4 98.9,223.1 99.2,212.4 99.6,231.5 99.9,224.1 100.3,221.9 100.6,229.5 101.0,226.4 101.3,237.7 101.7,229.5 102.0,226.5 102.4,219.3 102.7,220.7 103.1,231.5 103.4,235.4 103.8,215.8 104.2,222.1 104.5,239.9 104.9,231.1 105.2,235.2 105.6,233.4 105.9,240.8 106.3,232.5 106.6,233.4 107.0,231.6 107.3,223.0 107.7,228.8 108.0,238.9 108.4,242.0 108.7,234.5 109.1,223.1 109.4,224.8 109.8,235.4 110.1,223.6 110.5,228.8 110.8,236.1 111.2,229.1 111.5,232.8 111.9,240.1 112.2,235.6 112.6,231.7 112.9,223.9 113.3,240.2 113.6,231.6 114.0,233.3 114.3,234.0 114.7,242.2 115.0,225.3 115.4,225.3 115.7,223.4 116.1,231.3 116.4,224.5 116.8,231.1 117.1,228.2 117.5,237.5 117.8,233.8 118.2,237.8 118.5,242.9 118.9,238.9 119.2,243.8 119.6,243.9 119.9,239.1 120.3,240.7 120.6,225.0 121.0,225.1 121.3,229.7 121.7,231.9 122.1,243.4 122.4,235.8 122.8,247.7 123.1,242.3 123.5,241.5 123.8,240.9 124.2,232.6 124.5,244.1 124.9,227.1 125.2,242.6 125.6,233.4 125.9,250.3 126.3,233.4 126.6,248.3 127.0,238.7 127.3,240.3 127.7,234.8 128.0,236.4 128.4,238.1 128.7,242.0 129.1,229.5 129.4,244.6 129.8,241.5 130.1,245.0 130.5,241.1 130.8,248.8 131.2,245.2 131.5,239.0 131.9,246.5 132.2,239.4 132.6,246.7 132.9,233.0 133.3,243.7 133.6,231.2 134.0,239.5 134.3,243.9 134.7,236.6 135.0,235.2 135.4,232.8 135.7,233.8 136.1,237.3 136.4,251.5 136.8,237.1 137.1,244.2 137.5,240.9 137.8,235.1 138.2,248.7 138.5,234.7 138.9,232.2 139.3,240.2 139.6,246.3 140.0,234.7 140.3,243.0 140.7,237.1 141.0,235.8 141.4,254.8 141.7,242.3 142.1,255.1 142.4,249.5 142.8,240.6 143.1,253.0 143.5,249.9 143.8,248.1 144.2,242.9 144.5,242.7 144.9,242.2 145.2,248.8 145.6,250.5 145.9,242.6 146.3,251.5 146.6,251.2 147.0,240.9 147.3,251.2 147.7,252.0 148.0,238.2 148.4,246.3 148.7,257.4 149.1,251.3 149.4,234.4 149.8,234.5 150.1,248.4 150.5,241.6 150.8,241.4 151.2,244.4 151.5,258.0 151.9,239.9 152.2,244.9 152.6,248.5 152.9,258.0 153.3,251.3 153.6,247.8 154.0,248.8 154.3,245.5 154.7,249.8 155.0,240.3 155.4,242.9 155.7,255.1 156.1,251.4 156.4,244.4 156.8,251.1 157.2,237.8 157.5,251.1 157.9,245.8 158.2,243.3 158.6,255.3 158.9,239.0 159.3,249.0 159.6,252.5 160.0,252.4 160.3,259.0 160.7,257.0 161.0,237.5 161.4,248.7 161.7,249.8 162.1,246.5 162.4,244.0 162.8,253.4 163.1,249.4 163.5,246.1 163.8,241.1 164.2,246.3 164.5,236.7 164.9,249.6 165.2,250.5 165.6,257.7 165.9,248.5 166.3,243.9 166.6,250.0 167.0,249.5 167.3,255.0 167.7,252.4 168.0,251.5 168.4,249.1 168.7,241.2 169.1,245.1 169.4,242.4 169.8,240.7 170.1,251.9 170.5,239.7 170.8,248.6 171.2,257.9 171.5,253.1 171.9,249.6 172.2,259.6 172.6,237.3 172.9,249.6 173.3,243.5 173.6,257.6 174.0,248.7 174.4,247.7 174.7,254.7 175.1,247.9 175.4,249.7 175.8,247.2 176.1,258.0 176.5,246.3 176.8,251.8 177.2,255.8 177.5,261.3 177.9,251.4 178.2,252.7 178.6,238.3 178.9,258.5 179.3,240.2 179.6,241.8 180.0,247.6 180.3,248.8 180.7,247.1 181.0,260.7 181.4,241.0 181.7,252.9 182.1,255.8 182.4,250.9 182.8,262.1 183.1,260.0 183.5,259.1 183.8,261.8 184.2,247.2 184.5,240.3 184.9,251.2 185.2,253.6 185.6,249.3 185.9,255.0 186.3,250.7 186.6,248.9 187.0,253.3 187.3,254.7 187.7,251.4 188.0,251.6 188.4,247.5 188.7,262.4 189.1,259.8 189.4,255.6 189.8,249.1 190.1,261.3 190.5,244.3 190.8,242.8 191.2,257.7 191.6,245.1 191.9,264.0 192.3,253.6 192.6,264.0 193.0,245.7 193.3,247.4 193.7,249.8 194.0,257.3 194.4,261.1 194.7,250.7 195.1,257.1 195.4,249.0 195.8,264.6 196.1,250.9 196.5,250.4 196.8,265.0 197.2,262.7 197.5,259.0 197.9,258.3 198.2,265.3 198.6,254.3 198.9,262.2 199.3,255.1 199.6,265.5 200.0,262.8 200.3,250.1 200.7,265.8 201.0,255.2 201.4,245.1 201.7,249.6 202.1,264.2 202.4,243.0 202.8,259.1 203.1,249.1 203.5,249.0 203.8,257.8 204.2,251.4 204.5,266.6 204.9,255.2 205.2,254.9 205.6,258.4 205.9,255.3 206.3,248.9 206.6,249.9 207.0,260.6 207.3,251.1 207.7,248.5 208.0,255.8 208.4,254.1 208.7,267.6 209.1,267.6 209.5,254.4 209.8,267.3 210.2,251.3 210.5,249.3 210.9,264.0 211.2,265.3 211.6,258.8 211.9,256.0 212.3,252.1 212.6,259.3 213.0,257.6 213.3,264.7 213.7,256.1 214.0,263.4 214.4,251.3 214.7,253.5 215.1,269.1 215.4,256.1 215.8,266.0 216.1,252.0 216.5,265.8 216.8,250.2 217.2,251.6 217.5,246.5 217.9,256.8 218.2,258.8 218.6,250.9 218.9,267.6 219.3,259.6 219.6,261.6 220.0,259.9 220.3,270.4 220.7,270.4 221.0,270.5 221.4,249.9 221.7,262.3 222.1,255.8 222.4,261.0 222.8,261.8 223.1,251.4 223.5,271.1 223.8,262.0 224.2,265.9 224.5,266.9 224.9,271.4 225.2,271.2 225.6,269.0 225.9,253.4 226.3,265.6 226.6,264.1 227.0,262.2 227.4,256.8 227.7,254.0 228.1,259.8 228.4,261.1 228.8,257.6 229.1,266.6 229.5,259.8" fill="none" stroke="#d4451c" stroke-width="1.3" stroke-opacity="1" stroke-linejoin="round"/>
<polyline points="69.8,136.0 70.1,146.9 70.4,134.5 70.7,150.5 71.0,158.2 71.3,157.6 71.6,167.8 72.0,171.2 72.3,161.8 72.6,171.9 72.9,162.8 73.2,173.1 73.5,187.4 73.9,185.5 74.2,183.3 74.5,191.9 74.8,180.1 75.1,183.4 75.4,175.2 75.8,190.8 76.1,187.0 76.4,181.9 76.7,181.8 77.0,196.7 77.3,178.3 77.7,196.0 78.0,183.3 78.3,195.9 78.6,198.0 78.9,205.3 79.2,198.2 79.5,185.8 79.9,204.4 80.2,189.2 80.5,191.4 80.8,204.4 81.1,194.2 81.4,192.9 81.8,205.6 82.1,207.8 82.4,196.7 82.7,202.7 83.0,193.7 83.3,203.3 83.7,215.0 84.0,207.9 84.3,216.4 84.6,203.6 84.9,204.5 85.2,212.8 85.5,216.6 85.9,205.1 86.2,214.3 86.5,204.1 86.8,219.6 87.1,215.4 87.4,217.8 87.8,221.7 88.1,203.8 88.4,204.4 88.7,220.1 89.0,210.9 89.3,227.9 89.7,208.5 90.0,209.9 90.3,219.7 90.6,220.0 90.9,216.4 91.2,215.3 91.6,221.0 91.9,224.5 92.2,220.9 92.5,222.3 92.8,214.8 93.1,219.6 93.4,218.9 93.8,231.5 94.1,223.5 94.4,223.9 94.7,225.0 95.0,222.7 95.3,224.1 95.7,232.2 96.0,216.6 96.3,217.0 96.6,226.4 96.9,219.3 97.2,229.5 97.6,231.8 97.9,225.3 98.2,214.3 98.5,225.1 98.8,234.3 99.1,223.3 99.4,228.7 99.8,229.8 100.1,223.3 100.4,236.7 100.7,236.9 101.0,235.4 101.3,219.5 101.7,226.0 102.0,230.6 102.3,231.3 102.6,223.1 102.9,219.6 103.2,232.2 103.6,226.2 103.9,217.6 104.2,224.5 104.5,230.6 104.8,226.6 105.1,228.3 105.4,225.0 105.8,227.2 106.1,232.7 106.4,230.5 106.7,227.5 107.0,234.4 107.3,229.8 107.7,236.1 108.0,222.8 108.3,221.0 108.6,236.3 108.9,225.7 109.2,230.1 109.6,230.8 109.9,233.1 110.2,230.0 110.5,225.6 110.8,239.6 111.1,225.8 111.5,233.9 111.8,239.3 112.1,232.9 112.4,228.8 112.7,233.5 113.0,231.3 113.3,235.3 113.7,236.7 114.0,227.4 114.3,239.5 114.6,227.7 114.9,232.0 115.2,235.9 115.6,235.8 115.9,236.3 116.2,234.9 116.5,235.1 116.8,235.9 117.1,246.1 117.5,246.3 117.8,233.4 118.1,239.5 118.4,239.3 118.7,237.0 119.0,242.9 119.3,226.8 119.7,236.5 120.0,237.7 120.3,243.2 120.6,231.5 120.9,232.6 121.2,228.1 121.6,231.9 121.9,242.6 122.2,245.5 122.5,229.5 122.8,242.2 123.1,238.9 123.5,239.3 123.8,235.5 124.1,235.3 124.4,245.2 124.7,242.9 125.0,249.8 125.4,235.9 125.7,240.5 126.0,250.0 126.3,233.5 126.6,240.0 126.9,246.4 127.2,242.9 127.6,244.2 127.9,240.1 128.2,239.7 128.5,244.6 128.8,238.7 129.1,252.4 129.5,243.7 129.8,237.9 130.1,236.2 130.4,237.3 130.7,248.7 131.0,252.8 131.4,244.7 131.7,232.5 132.0,241.2 132.3,247.3 132.6,253.1 132.9,242.1 133.2,245.8 133.6,240.1 133.9,242.0 134.2,254.2 134.5,244.1 134.8,238.6 135.1,247.0 135.5,250.8 135.8,250.6 136.1,251.7 136.4,233.4 136.7,235.2 137.0,247.5 137.4,235.6 137.7,250.4 138.0,247.3 138.3,248.6 138.6,245.3 138.9,240.3 139.3,234.0 139.6,239.9 139.9,245.1 140.2,243.6 140.5,246.0 140.8,242.4 141.1,250.0 141.5,243.3 141.8,242.1 142.1,239.2 142.4,250.0 142.7,242.5 143.0,243.4 143.4,250.1 143.7,256.1 144.0,248.7 144.3,240.1 144.6,247.2 144.9,235.2 145.3,242.2 145.6,250.0 145.9,246.3 146.2,243.0 146.5,243.0 146.8,247.4 147.1,243.2 147.5,235.7 147.8,240.6 148.1,245.2 148.4,249.1 148.7,257.0 149.0,245.3 149.4,248.9 149.7,246.8 150.0,249.9 150.3,242.0 150.6,240.3 150.9,251.0 151.3,255.1 151.6,245.0 151.9,238.7 152.2,244.6 152.5,244.2 152.8,255.6 153.2,250.5 153.5,243.8 153.8,245.1 154.1,247.4 154.4,243.9 154.7,242.3 155.0,246.9 155.4,251.7 155.7,255.9 156.0,246.3 156.3,248.6 156.6,248.6 156.9,240.9 157.3,251.6 157.6,249.3 157.9,243.8 158.2,253.0 158.5,258.5 158.8,251.1 159.2,242.9 159.5,251.4 159.8,249.3 160.1,258.7 160.4,240.8 160.7,258.4 161.0,252.0 161.4,249.1 161.7,237.7 162.0,247.4 162.3,252.4 162.6,257.1 162.9,250.0 163.3,255.5 163.6,251.9 163.9,248.0 164.2,241.0 164.5,254.9 164.8,240.2 165.2,259.1 165.5,238.0 165.8,252.3 166.1,250.7 166.4,251.3 166.7,247.2 167.1,248.9 167.4,250.6 167.7,252.8 168.0,251.9 168.3,248.4 168.6,251.9 168.9,252.9 169.3,257.5 169.6,248.8 169.9,246.0 170.2,255.1 170.5,243.1 170.8,249.3 171.2,248.6 171.5,259.4 171.8,245.6 172.1,241.9 172.4,239.0 172.7,253.1 173.1,249.8 173.4,245.1 173.7,246.4 174.0,253.4 174.3,249.3 174.6,243.9 174.9,246.5 175.3,250.2 175.6,243.7 175.9,258.8 176.2,247.4 176.5,254.0 176.8,252.3 177.2,245.4 177.5,239.9 177.8,247.6 178.1,249.5 178.4,240.6 178.7,245.9 179.1,261.2 179.4,254.1 179.7,254.5 180.0,254.6 180.3,259.5 180.6,246.9 180.9,249.7 181.3,240.5 181.6,252.5 181.9,250.2 182.2,255.3 182.5,244.9 182.8,243.5 183.2,241.1 183.5,245.1 183.8,254.6 184.1,244.0 184.4,256.6 184.7,255.0 185.1,252.5 185.4,241.2 185.7,255.7 186.0,257.4 186.3,250.2 186.6,244.7 187.0,248.4 187.3,248.6 187.6,256.8 187.9,254.2 188.2,244.5 188.5,251.4 188.8,255.9 189.2,254.2 189.5,244.3 189.8,242.2 190.1,249.9 190.4,257.2 190.7,242.7 191.1,256.3 191.4,252.0 191.7,250.2 192.0,252.7 192.3,253.8 192.6,243.4 193.0,251.0 193.3,261.3 193.6,256.5 193.9,245.4 194.2,254.2 194.5,259.2 194.8,247.9 195.2,250.5 195.5,253.2 195.8,250.1 196.1,255.7 196.4,252.5 196.7,250.3 197.1,257.0 197.4,246.5 197.7,260.0 198.0,243.8 198.3,253.5 198.6,251.9 199.0,261.2 199.3,249.6 199.6,259.1 199.9,251.4 200.2,254.3 200.5,259.2 200.9,244.3 201.2,253.6 201.5,257.6 201.8,256.8 202.1,252.9 202.4,254.5 202.7,249.9 203.1,258.3 203.4,253.8 203.7,258.0 204.0,259.3 204.3,250.5 204.6,260.1 205.0,264.9 205.3,251.6 205.6,258.5 205.9,252.3 206.2,252.6 206.5,252.8 206.9,255.4 207.2,246.8 207.5,262.1 207.8,249.2 208.1,257.0 208.4,254.5 208.7,258.7 209.1,251.3 209.4,253.6 209.7,259.1 210.0,256.2 210.3,253.8 210.6,257.5 211.0,246.7 211.3,253.5 211.6,259.2 211.9,251.0 212.2,255.5 212.5,260.1 212.9,259.2 213.2,266.5 213.5,252.9 213.8,248.6 214.1,257.9 214.4,262.2 214.8,267.6 215.1,264.8 215.4,257.8 215.7,261.5 216.0,258.8 216.3,262.9 216.6,259.0 217.0,259.4 217.3,257.1 217.6,257.8 217.9,257.2 218.2,263.1 218.5,260.2 218.9,265.7 219.2,261.6 219.5,258.9 219.8,256.3 220.1,266.7 220.4,264.5 220.8,262.1 221.1,266.2 221.4,260.9 221.7,260.4 222.0,263.5 222.3,250.0 222.6,262.0 223.0,258.2 223.3,270.0 223.6,254.9 223.9,258.0 224.2,258.7 224.5,271.0 224.9,260.4 225.2,264.0 225.5,257.8 225.8,260.4 226.1,263.3 226.4,263.0 226.8,253.1 227.1,254.0 227.4,270.3 227.7,263.0 228.0,256.8 228.3,262.9 228.7,258.7 229.0,262.4 229.3,251.1" fill="none" stroke="#fb6d3f" stroke-width="1.5" stroke-opacity="1" stroke-linejoin="round"/>
</g>
<circle cx="229.3" cy="257.6" r="2.1" fill="#2a78b8"/>
<circle cx="244.7" cy="267.00" r="2.5" fill="#1f77b4"/>
<text transform="translate(253.00,269.20) scale(1,1.1)" x="0" y="0" font-family='"Liberation Sans", sans-serif' font-size="6.1" fill="#3a3a3a" text-anchor="start">Model1</text>
<circle cx="244.7" cy="276.70" r="2.5" fill="#ff7f50"/>
<text transform="translate(253.00,278.90) scale(1,1.1)" x="0" y="0" font-family='"Liberation Sans", sans-serif' font-size="6.1" fill="#3a3a3a" text-anchor="start">Model2</text>
<circle cx="244.7" cy="286.40" r="2.5" fill="#d4441c"/>
<text transform="translate(253.00,288.60) scale(1,1.1)" x="0" y="0" font-family='"Liberation Sans", sans-serif' font-size="6.1" fill="#3a3a3a" text-anchor="start">Model3</text>
<line x1="328.60" y1="160.1" x2="328.60" y2="290.7" stroke="#000" stroke-opacity="0.16" stroke-width="0.85"/>
<line x1="343.59" y1="160.1" x2="343.59" y2="290.7" stroke="#000" stroke-opacity="0.16" stroke-width="0.85"/>
<line x1="358.58" y1="160.1" x2="358.58" y2="290.7" stroke="#000" stroke-opacity="0.16" stroke-width="0.85"/>
<line x1="373.57" y1="160.1" x2="373.57" y2="290.7" stroke="#000" stroke-opacity="0.16" stroke-width="0.85"/>
<line x1="388.56" y1="160.1" x2="388.56" y2="290.7" stroke="#000" stroke-opacity="0.16" stroke-width="0.85"/>
<line x1="403.55" y1="160.1" x2="403.55" y2="290.7" stroke="#000" stroke-opacity="0.16" stroke-width="0.85"/>
<line x1="418.54" y1="160.1" x2="418.54" y2="290.7" stroke="#000" stroke-opacity="0.16" stroke-width="0.85"/>
<line x1="433.53" y1="160.1" x2="433.53" y2="290.7" stroke="#000" stroke-opacity="0.16" stroke-width="0.85"/>
<line x1="448.52" y1="160.1" x2="448.52" y2="290.7" stroke="#000" stroke-opacity="0.16" stroke-width="0.85"/>
<line x1="463.51" y1="160.1" x2="463.51" y2="290.7" stroke="#000" stroke-opacity="0.16" stroke-width="0.85"/>
<line x1="478.50" y1="160.1" x2="478.50" y2="290.7" stroke="#000" stroke-opacity="0.16" stroke-width="0.85"/>
<line x1="493.49" y1="160.1" x2="493.49" y2="290.7" stroke="#000" stroke-opacity="0.16" stroke-width="0.85"/>
<line x1="508.48" y1="160.1" x2="508.48" y2="290.7" stroke="#000" stroke-opacity="0.16" stroke-width="0.85"/>
<line x1="324.6" y1="160.10" x2="508.5" y2="160.10" stroke="#000" stroke-opacity="0.16" stroke-width="0.85"/>
<line x1="324.6" y1="170.40" x2="508.5" y2="170.40" stroke="#000" stroke-opacity="0.16" stroke-width="0.85"/>
<line x1="324.6" y1="180.70" x2="508.5" y2="180.70" stroke="#000" stroke-opacity="0.16" stroke-width="0.85"/>
<line x1="324.6" y1="191.00" x2="508.5" y2="191.00" stroke="#000" stroke-opacity="0.16" stroke-width="0.85"/>
<line x1="324.6" y1="201.30" x2="508.5" y2="201.30" stroke="#000" stroke-opacity="0.16" stroke-width="0.85"/>
<line x1="324.6" y1="211.60" x2="508.5" y2="211.60" stroke="#000" stroke-opacity="0.16" stroke-width="0.85"/>
<line x1="324.6" y1="221.90" x2="508.5" y2="221.90" stroke="#000" stroke-opacity="0.16" stroke-width="0.85"/>
<line x1="324.6" y1="232.20" x2="508.5" y2="232.20" stroke="#000" stroke-opacity="0.16" stroke-width="0.85"/>
<line x1="324.6" y1="242.50" x2="508.5" y2="242.50" stroke="#000" stroke-opacity="0.16" stroke-width="0.85"/>
<line x1="324.6" y1="252.80" x2="508.5" y2="252.80" stroke="#000" stroke-opacity="0.16" stroke-width="0.85"/>
<line x1="324.6" y1="263.10" x2="508.5" y2="263.10" stroke="#000" stroke-opacity="0.16" stroke-width="0.85"/>
<line x1="324.6" y1="273.40" x2="508.5" y2="273.40" stroke="#000" stroke-opacity="0.16" stroke-width="0.85"/>
<line x1="324.6" y1="283.70" x2="508.5" y2="283.70" stroke="#000" stroke-opacity="0.16" stroke-width="0.85"/>
<line x1="324.6" y1="287.0" x2="508.5" y2="287.0" stroke="#000" stroke-opacity="0.17" stroke-width="0.9"/>
<line x1="328.6" y1="160.1" x2="328.6" y2="287.0" stroke="#b0b0b0" stroke-width="1.4"/>
<text transform="translate(320.80,183.80) scale(1,1.15)" x="0" y="0" font-family='"Liberation Sans", sans-serif' font-size="8" fill="#a0a0a0" text-anchor="end">0.95</text>
<text transform="translate(320.80,204.40) scale(1,1.15)" x="0" y="0" font-family='"Liberation Sans", sans-serif' font-size="8" fill="#a0a0a0" text-anchor="end">0.94</text>
<text transform="translate(320.80,225.00) scale(1,1.15)" x="0" y="0" font-family='"Liberation Sans", sans-serif' font-size="8" fill="#a0a0a0" text-anchor="end">0.93</text>
<text transform="translate(320.80,245.60) scale(1,1.15)" x="0" y="0" font-family='"Liberation Sans", sans-serif' font-size="8" fill="#a0a0a0" text-anchor="end">0.92</text>
<text transform="translate(320.80,266.20) scale(1,1.15)" x="0" y="0" font-family='"Liberation Sans", sans-serif' font-size="8" fill="#a0a0a0" text-anchor="end">0.91</text>
<text transform="translate(320.80,286.80) scale(1,1.15)" x="0" y="0" font-family='"Liberation Sans", sans-serif' font-size="8" fill="#a0a0a0" text-anchor="end">0.9</text>
<text transform="translate(343.59,302.10) scale(1,1.15)" x="0" y="0" font-family='"Liberation Sans", sans-serif' font-size="8" fill="#a0a0a0" text-anchor="middle">20M</text>
<text transform="translate(373.57,302.10) scale(1,1.15)" x="0" y="0" font-family='"Liberation Sans", sans-serif' font-size="8" fill="#a0a0a0" text-anchor="middle">60M</text>
<text transform="translate(403.55,302.10) scale(1,1.15)" x="0" y="0" font-family='"Liberation Sans", sans-serif' font-size="8" fill="#a0a0a0" text-anchor="middle">100M</text>
<text transform="translate(433.53,302.10) scale(1,1.15)" x="0" y="0" font-family='"Liberation Sans", sans-serif' font-size="8" fill="#a0a0a0" text-anchor="middle">140M</text>
<text transform="translate(463.51,302.10) scale(1,1.15)" x="0" y="0" font-family='"Liberation Sans", sans-serif' font-size="8" fill="#a0a0a0" text-anchor="middle">180M</text>
<text transform="translate(493.49,302.10) scale(1,1.15)" x="0" y="0" font-family='"Liberation Sans", sans-serif' font-size="8" fill="#a0a0a0" text-anchor="middle">220M</text>
<text x="356.8" y="153" font-family='"Liberation Sans", sans-serif' font-size="11.3" fill="#5e5e5e" font-weight="bold" text-anchor="start" >Validation PRC-AUC</text>
<text x="374.0" y="318.6" font-family='"Liberation Sans", sans-serif' font-size="11.45" fill="#5e5e5e" font-weight="normal" text-anchor="start" >Data amount</text>
<text x="0" y="0" transform="translate(300.2,246.6) rotate(-90)" font-family='"Liberation Sans", sans-serif' font-size="11.4" fill="#5e5e5e">PRC-AUC</text>
<clipPath id="c2"><rect x="328.6" y="160.1" width="179.89999999999998" height="127.4"/></clipPath>
<g clip-path="url(#c2)">
<polyline points="331.6,275.0 332.3,268.4 333.1,262.2 333.8,256.4 334.6,251.0 335.3,246.1 336.1,241.6 336.8,237.3 337.6,233.3 338.3,229.7 339.1,226.5 339.8,223.8 340.6,221.3 341.3,219.0 342.1,217.0 342.8,215.2 343.6,213.6 344.3,212.1 345.1,210.8 345.8,209.8 346.6,209.0 347.3,208.6 348.1,208.3 348.8,208.1 349.6,207.8 350.3,207.4 351.1,206.5 351.8,205.2 352.6,203.8 353.3,202.5 354.1,201.8 354.8,201.6 355.6,201.4 356.3,201.2 357.1,201.1 357.8,201.0 358.6,200.8 359.3,200.6 360.1,200.4 360.8,200.1 361.6,199.9 362.3,199.6 363.1,199.4 363.8,199.1 364.6,198.8 365.3,198.6 366.1,198.3 366.8,198.1 367.6,197.8 368.3,197.6 369.1,197.4 369.8,197.1 370.6,196.9 371.3,196.6 372.1,196.4 372.8,196.2 373.6,195.9 374.3,195.7 375.1,195.5 375.8,195.2 376.6,195.0 377.3,194.7 378.1,194.5 378.8,194.2 379.6,194.0 380.3,193.7 381.1,193.5 381.8,193.2 382.6,193.0 383.3,192.7 384.1,192.5 384.8,192.2 385.6,192.0 386.3,191.7 387.1,191.5 387.8,191.3 388.6,191.0 389.3,190.8 390.1,190.6 390.8,190.3 391.6,190.1 392.3,189.9 393.1,189.7 393.8,189.5 394.6,189.3 395.3,189.1 396.1,188.9 396.8,188.7 397.6,188.6 398.3,188.4 399.1,188.3 399.8,188.1 400.6,188.0 401.3,187.9 402.1,187.7 402.8,187.6 403.6,187.5 404.3,187.3 405.0,187.2 405.8,187.1 406.5,187.0 407.3,186.9 408.0,186.7 408.8,186.6 409.5,186.5 410.3,186.4 411.0,186.3 411.8,186.2 412.5,186.1 413.3,186.0 414.0,186.0 414.8,185.9 415.5,185.8 416.3,185.7 417.0,185.7 417.8,185.6 418.5,185.6 419.3,185.5 420.0,185.5 420.8,185.4 421.5,185.4 422.3,185.3 423.0,185.3 423.8,185.2 424.5,185.2 425.3,185.1 426.0,185.1 426.8,185.0 427.5,185.0 428.3,184.9 429.0,184.9 429.8,184.8 430.5,184.8 431.3,184.7 432.0,184.7 432.8,184.6 433.5,184.6 434.3,184.5 435.0,184.5 435.8,184.5 436.5,184.4 437.3,184.4 438.0,184.3 438.8,184.3 439.5,184.2 440.3,184.2 441.0,184.2 441.8,184.1 442.5,184.1 443.3,184.0 444.0,184.0 444.8,184.0 445.5,183.9 446.3,183.9 447.0,183.8 447.8,183.8 448.5,183.8 449.3,183.7 450.0,183.7 450.8,183.7 451.5,183.6 452.3,183.6 453.0,183.6 453.8,183.5 454.5,183.5 455.3,183.5 456.0,183.4 456.8,183.4 457.5,183.4 458.3,183.3 459.0,183.3 459.8,183.3 460.5,183.2 461.3,183.2 462.0,183.2 462.8,183.1 463.5,183.1 464.3,183.1 465.0,183.1 465.8,183.0 466.5,183.0 467.3,183.0 468.0,183.0 468.8,182.9 469.5,182.9 470.3,182.9 471.0,182.9 471.8,182.9 472.5,182.8 473.3,182.8 474.0,182.8 474.8,182.8 475.5,182.8 476.3,182.7 477.0,182.7 477.8,182.7 478.5,182.7 479.2,182.7 480.0,182.6 480.7,182.6 481.5,182.6 482.2,182.6 483.0,182.6 483.7,182.6 484.5,182.6 485.2,182.6 486.0,182.5 486.7,182.5 487.5,182.5 488.2,182.5 489.0,182.5 489.7,182.5 490.5,182.5 491.2,182.5 492.0,182.5 492.7,182.5 493.5,182.5 494.2,182.5 495.0,182.5 495.7,182.5 496.5,182.5 497.2,182.5" fill="none" stroke="#f8c5b5" stroke-width="1.1" stroke-opacity="0.9" stroke-linejoin="round"/>
<polyline points="331.6,277.0 332.3,271.0 333.1,265.2 333.8,259.9 334.6,254.8 335.3,250.2 336.1,246.0 336.8,241.9 337.6,238.1 338.3,234.7 339.1,231.7 339.8,228.9 340.6,226.3 341.3,223.8 342.1,221.6 342.8,219.8 343.6,218.3 344.3,217.2 345.1,216.1 345.8,215.3 346.6,214.5 347.3,213.8 348.1,213.2 348.8,212.6 349.6,212.2 350.3,211.7 351.1,211.3 351.8,210.7 352.6,209.9 353.3,208.8 354.1,207.6 354.8,206.6 355.6,205.9 356.3,205.5 357.1,205.1 357.8,204.8 358.6,204.5 359.3,204.3 360.1,204.0 360.8,203.8 361.6,203.5 362.3,203.3 363.1,203.0 363.8,202.7 364.6,202.5 365.3,202.2 366.1,202.0 366.8,201.8 367.6,201.5 368.3,201.3 369.1,201.0 369.8,200.8 370.6,200.6 371.3,200.3 372.1,200.1 372.8,199.9 373.6,199.6 374.3,199.4 375.1,199.2 375.8,198.9 376.6,198.7 377.3,198.4 378.1,198.1 378.8,197.8 379.6,197.6 380.3,197.3 381.1,197.0 381.8,196.7 382.6,196.4 383.3,196.1 384.1,195.8 384.8,195.5 385.6,195.2 386.3,195.0 387.1,194.7 387.8,194.4 388.6,194.1 389.3,193.9 390.1,193.6 390.8,193.4 391.6,193.1 392.3,192.9 393.1,192.7 393.8,192.5 394.6,192.3 395.3,192.2 396.1,192.0 396.8,191.9 397.6,191.7 398.3,191.6 399.1,191.6 399.8,191.5 400.6,191.4 401.3,191.3 402.1,191.3 402.8,191.2 403.6,191.1 404.3,191.1 405.0,191.0 405.8,190.9 406.5,190.9 407.3,190.8 408.0,190.7 408.8,190.7 409.5,190.6 410.3,190.6 411.0,190.5 411.8,190.4 412.5,190.4 413.3,190.3 414.0,190.2 414.8,190.2 415.5,190.1 416.3,190.1 417.0,190.0 417.8,190.0 418.5,189.9 419.3,189.8 420.0,189.8 420.8,189.7 421.5,189.7 422.3,189.6 423.0,189.6 423.8,189.5 424.5,189.5 425.3,189.4 426.0,189.4 426.8,189.3 427.5,189.3 428.3,189.2 429.0,189.2 429.8,189.1 430.5,189.1 431.3,189.0 432.0,189.0 432.8,188.9 433.5,188.9 434.3,188.8 435.0,188.8 435.8,188.8 436.5,188.7 437.3,188.7 438.0,188.6 438.8,188.6 439.5,188.5 440.3,188.5 441.0,188.5 441.8,188.4 442.5,188.4 443.3,188.4 444.0,188.3 444.8,188.3 445.5,188.2 446.3,188.2 447.0,188.2 447.8,188.1 448.5,188.1 449.3,188.1 450.0,188.0 450.8,188.0 451.5,188.0 452.3,187.9 453.0,187.9 453.8,187.9 454.5,187.8 455.3,187.8 456.0,187.8 456.8,187.8 457.5,187.7 458.3,187.7 459.0,187.7 459.8,187.7 460.5,187.6 461.3,187.6 462.0,187.6 462.8,187.6 463.5,187.5 464.3,187.5 465.0,187.5 465.8,187.5 466.5,187.4 467.3,187.4 468.0,187.4 468.8,187.4 469.5,187.4 470.3,187.3 471.0,187.3 471.8,187.3 472.5,187.3 473.3,187.3 474.0,187.3 474.8,187.2 475.5,187.2 476.3,187.2 477.0,187.2 477.8,187.2 478.5,187.2 479.2,187.2 480.0,187.1 480.7,187.1 481.5,187.1 482.2,187.1 483.0,187.1 483.7,187.1 484.5,187.1 485.2,187.1 486.0,187.1 486.7,187.1 487.5,187.0 488.2,187.0 489.0,187.0 489.7,187.0 490.5,187.0 491.2,187.0 492.0,187.0 492.7,187.0 493.5,187.0 494.2,187.0 495.0,187.0 495.7,187.0 496.5,187.0 497.2,187.0" fill="none" stroke="#f6b9a8" stroke-width="1.0" stroke-opacity="0.8" stroke-linejoin="round"/>
<polyline points="337.6,266.7 338.3,261.4 339.1,256.3 339.8,251.4 340.6,246.6 341.3,242.0 342.1,236.7 342.8,231.5 343.6,229.2 344.3,229.2 345.1,229.2 345.8,229.2 346.6,229.2 347.3,229.2 348.1,229.2 348.8,229.2 349.6,229.0 350.3,228.8 351.1,227.7 351.8,225.5 352.6,223.1 353.3,221.4 354.1,220.5 354.8,219.7 355.6,219.0 356.3,218.5 357.1,217.9 357.8,217.4 358.6,216.9 359.3,216.3 360.1,215.8 360.8,215.3 361.6,214.8 362.3,214.3 363.1,213.8 363.8,213.4 364.6,213.0 365.3,212.5 366.1,212.1 366.8,211.7 367.6,211.4 368.3,211.0 369.1,210.6 369.8,210.3 370.6,210.0 371.3,209.6 372.1,209.3 372.8,209.0 373.6,208.6 374.3,208.3 375.1,207.9 375.8,207.6 376.6,207.2 377.3,206.9 378.1,206.5 378.8,206.2 379.6,205.8 380.3,205.5 381.1,205.2 381.8,204.9 382.6,204.6 383.3,204.3 384.1,204.1 384.8,203.9 385.6,203.7 386.3,203.5 387.1,203.3 387.8,203.1 388.6,203.0 389.3,202.8 390.1,202.6 390.8,202.5 391.6,202.3 392.3,202.2 393.1,202.1 393.8,201.9 394.6,201.8 395.3,201.7 396.1,201.6 396.8,201.5 397.6,201.4 398.3,201.3 399.1,201.2 399.8,201.2 400.6,201.1 401.3,201.0 402.1,201.0 402.8,200.9 403.6,200.9 404.3,200.8 405.0,200.8 405.8,200.7 406.5,200.7 407.3,200.6 408.0,200.6 408.8,200.5 409.5,200.5 410.3,200.5 411.0,200.4 411.8,200.4 412.5,200.4 413.3,200.3 414.0,200.3 414.8,200.2 415.5,200.2 416.3,200.2 417.0,200.2 417.8,200.1 418.5,200.1 419.3,200.1 420.0,200.0 420.8,200.0 421.5,200.0 422.3,199.9 423.0,199.9 423.8,199.9 424.5,199.8 425.3,199.8 426.0,199.8 426.8,199.7 427.5,199.7 428.3,199.7 429.0,199.6 429.8,199.6 430.5,199.6 431.3,199.5 432.0,199.5 432.8,199.5 433.5,199.4 434.3,199.4 435.0,199.4 435.8,199.3 436.5,199.3 437.3,199.3 438.0,199.2 438.8,199.2 439.5,199.2 440.3,199.1 441.0,199.1 441.8,199.1 442.5,199.0 443.3,199.0 444.0,199.0 444.8,198.9 445.5,198.9 446.3,198.9 447.0,198.8 447.8,198.8 448.5,198.8 449.3,198.8 450.0,198.7 450.8,198.7 451.5,198.7 452.3,198.6 453.0,198.6 453.8,198.6 454.5,198.5 455.3,198.5 456.0,198.5 456.8,198.5 457.5,198.4 458.3,198.4 459.0,198.4 459.8,198.3 460.5,198.3 461.3,198.3 462.0,198.2 462.8,198.2 463.5,198.2 464.3,198.2 465.0,198.1 465.8,198.1 466.5,198.1 467.3,198.0 468.0,198.0 468.8,198.0 469.5,198.0 470.3,197.9 471.0,197.9 471.8,197.9 472.5,197.9 473.3,197.8 474.0,197.8 474.8,197.8 475.5,197.8 476.3,197.7 477.0,197.7 477.8,197.7 478.5,197.7 479.2,197.6 480.0,197.6 480.7,197.6 481.5,197.6 482.2,197.5 483.0,197.5 483.7,197.5 484.5,197.5 485.2,197.4 486.0,197.4 486.7,197.4 487.5,197.4 488.2,197.4 489.0,197.3 489.7,197.3 490.5,197.3 491.2,197.3 492.0,197.2 492.7,197.2 493.5,197.2 494.2,197.2 495.0,197.2 495.7,197.1 496.5,197.1 497.2,197.1" fill="none" stroke="#bcdaf2" stroke-width="1.1" stroke-opacity="0.85" stroke-linejoin="round"/>
<polyline points="335.8,288.3 336.5,283.9 337.3,279.7 338.0,275.5 338.8,271.5 339.5,267.6 340.3,263.9 341.0,260.1 341.8,256.4 342.5,252.8 343.3,249.6 344.0,246.7 344.8,244.4 345.5,242.2 346.3,240.3 347.0,238.7 347.8,237.4 348.5,236.3 349.3,235.4 350.0,234.6 350.8,233.8 351.5,233.1 352.3,232.4 353.0,231.6 353.8,230.8 354.5,230.0 355.3,229.1 356.0,228.3 356.8,227.5 357.5,226.7 358.3,225.9 359.0,225.1 359.8,224.4 360.5,223.6 361.3,222.9 362.0,222.2 362.8,221.5 363.5,220.9 364.3,220.3 365.0,219.7 365.8,219.1 366.5,218.5 367.3,217.9 368.0,217.4 368.8,216.9 369.5,216.3 370.3,215.8 371.0,215.4 371.8,214.9 372.5,214.4 373.3,214.0 374.0,213.5 374.8,213.1 375.5,212.7 376.3,212.3 377.0,211.9 377.8,211.5 378.5,211.1 379.3,210.7 380.0,210.4 380.8,210.0 381.5,209.6 382.3,209.3 383.0,209.0 383.8,208.6 384.5,208.3 385.3,208.0 386.0,207.6 386.8,207.3 387.5,207.0 388.3,206.6 389.0,206.3 389.8,206.0 390.5,205.7 391.3,205.3 392.0,205.0 392.8,204.8 393.5,204.5 394.3,204.2 395.0,204.0 395.8,203.7 396.5,203.5 397.3,203.3 398.0,203.1 398.8,203.0 399.5,202.8 400.3,202.7 401.0,202.6 401.8,202.4 402.5,202.3 403.3,202.2 404.0,202.1 404.7,202.0 405.5,201.9 406.2,201.8 407.0,201.7 407.7,201.6 408.5,201.5 409.2,201.4 410.0,201.4 410.7,201.3 411.5,201.2 412.2,201.1 413.0,201.1 413.7,201.0 414.5,200.9 415.2,200.9 416.0,200.8 416.7,200.7 417.5,200.7 418.2,200.6 419.0,200.6 419.7,200.5 420.5,200.4 421.2,200.4 422.0,200.3 422.7,200.3 423.5,200.2 424.2,200.2 425.0,200.1 425.7,200.1 426.5,200.0 427.2,200.0 428.0,200.0 428.7,199.9 429.5,199.9 430.2,199.8 431.0,199.8 431.7,199.7 432.5,199.7 433.2,199.7 434.0,199.6 434.7,199.6 435.5,199.6 436.2,199.5 437.0,199.5 437.7,199.4 438.5,199.4 439.2,199.4 440.0,199.3 440.7,199.3 441.5,199.2 442.2,199.2 443.0,199.2 443.7,199.1 444.5,199.1 445.2,199.0 446.0,199.0 446.7,199.0 447.5,198.9 448.2,198.9 449.0,198.8 449.7,198.8 450.5,198.7 451.2,198.7 452.0,198.6 452.7,198.6 453.5,198.5 454.2,198.5 455.0,198.4 455.7,198.4 456.5,198.3 457.2,198.3 458.0,198.2 458.7,198.2 459.5,198.1 460.2,198.1 461.0,198.0 461.7,198.0 462.5,197.9 463.2,197.9 464.0,197.8 464.7,197.8 465.5,197.8 466.2,197.7 467.0,197.7 467.7,197.6 468.5,197.6 469.2,197.6 470.0,197.6 470.7,197.5 471.5,197.5 472.2,197.5 473.0,197.5 473.7,197.5 474.5,197.4 475.2,197.4 476.0,197.4 476.7,197.4 477.5,197.4 478.2,197.3 478.9,197.3 479.7,197.3 480.4,197.3 481.2,197.3 481.9,197.3 482.7,197.3 483.4,197.2 484.2,197.2 484.9,197.2 485.7,197.2 486.4,197.2 487.2,197.2 487.9,197.2 488.7,197.2 489.4,197.1 490.2,197.1 490.9,197.1 491.7,197.1 492.4,197.1 493.2,197.1 493.9,197.1 494.7,197.1 495.4,197.1 496.2,197.1 496.9,197.1 497.7,197.1" fill="none" stroke="#2a7fc1" stroke-width="2.1" stroke-opacity="1" stroke-linejoin="round"/>
<polyline points="332.1,280.7 332.9,275.8 333.6,271.0 334.4,266.4 335.1,262.0 335.9,257.8 336.6,253.8 337.4,249.8 338.1,245.9 338.9,242.1 339.6,238.7 340.4,235.6 341.1,233.0 341.9,230.7 342.6,228.7 343.4,226.7 344.1,225.0 344.9,223.3 345.6,221.6 346.4,220.0 347.1,218.3 347.9,216.7 348.6,215.1 349.4,213.7 350.1,212.6 350.9,211.6 351.6,210.6 352.4,209.7 353.1,208.8 353.9,208.0 354.6,207.3 355.4,206.5 356.1,205.9 356.9,205.2 357.6,204.6 358.4,204.1 359.1,203.5 359.9,203.0 360.6,202.5 361.4,202.1 362.1,201.6 362.9,201.2 363.6,200.8 364.4,200.4 365.1,200.0 365.9,199.7 366.6,199.3 367.3,198.9 368.1,198.6 368.8,198.2 369.6,197.9 370.3,197.5 371.1,197.2 371.8,196.8 372.6,196.4 373.3,196.1 374.1,195.7 374.8,195.3 375.6,195.0 376.3,194.6 377.1,194.3 377.8,193.9 378.6,193.6 379.3,193.2 380.1,192.9 380.8,192.6 381.6,192.2 382.3,191.9 383.1,191.6 383.8,191.4 384.6,191.1 385.3,190.8 386.1,190.6 386.8,190.4 387.6,190.1 388.3,190.0 389.1,189.8 389.8,189.6 390.6,189.4 391.3,189.3 392.1,189.1 392.8,189.0 393.6,188.8 394.3,188.7 395.1,188.6 395.8,188.4 396.6,188.3 397.3,188.2 398.1,188.1 398.8,187.9 399.6,187.8 400.3,187.7 401.1,187.6 401.8,187.5 402.6,187.4 403.3,187.3 404.1,187.2 404.8,187.1 405.6,187.0 406.3,186.9 407.1,186.8 407.8,186.7 408.6,186.6 409.3,186.5 410.1,186.4 410.8,186.4 411.6,186.3 412.3,186.2 413.1,186.1 413.8,186.0 414.6,185.9 415.3,185.8 416.1,185.8 416.8,185.7 417.6,185.6 418.3,185.5 419.1,185.5 419.8,185.4 420.6,185.3 421.3,185.3 422.1,185.2 422.8,185.1 423.6,185.1 424.3,185.0 425.1,185.0 425.8,184.9 426.6,184.9 427.3,184.8 428.1,184.8 428.8,184.8 429.6,184.7 430.3,184.7 431.1,184.6 431.8,184.6 432.6,184.6 433.3,184.5 434.1,184.5 434.8,184.5 435.6,184.4 436.3,184.4 437.1,184.4 437.8,184.3 438.6,184.3 439.3,184.3 440.1,184.2 440.8,184.2 441.5,184.2 442.3,184.2 443.0,184.1 443.8,184.1 444.5,184.1 445.3,184.1 446.0,184.0 446.8,184.0 447.5,184.0 448.3,183.9 449.0,183.9 449.8,183.9 450.5,183.9 451.3,183.8 452.0,183.8 452.8,183.8 453.5,183.8 454.3,183.7 455.0,183.7 455.8,183.7 456.5,183.6 457.3,183.6 458.0,183.6 458.8,183.6 459.5,183.5 460.3,183.5 461.0,183.5 461.8,183.5 462.5,183.4 463.3,183.4 464.0,183.4 464.8,183.4 465.5,183.3 466.3,183.3 467.0,183.3 467.8,183.3 468.5,183.2 469.3,183.2 470.0,183.2 470.8,183.2 471.5,183.2 472.3,183.1 473.0,183.1 473.8,183.1 474.5,183.1 475.3,183.0 476.0,183.0 476.8,183.0 477.5,183.0 478.3,182.9 479.0,182.9 479.8,182.9 480.5,182.9 481.3,182.9 482.0,182.8 482.8,182.8 483.5,182.8 484.3,182.8 485.0,182.8 485.8,182.7 486.5,182.7 487.3,182.7 488.0,182.7 488.8,182.7 489.5,182.6 490.3,182.6 491.0,182.6 491.8,182.6 492.5,182.6 493.3,182.6 494.0,182.5 494.8,182.5 495.5,182.5 496.3,182.5 497.0,182.5" fill="none" stroke="#f47a55" stroke-width="2.0" stroke-opacity="1" stroke-linejoin="round"/>
<polyline points="332.1,279.9 332.9,275.4 333.6,271.0 334.4,266.7 335.1,262.6 335.9,258.7 336.6,254.9 337.4,251.1 338.1,247.4 338.9,243.8 339.6,240.5 340.4,237.6 341.1,235.1 341.9,233.0 342.6,231.0 343.4,229.3 344.1,227.6 344.9,226.0 345.6,224.5 346.4,223.0 347.1,221.5 347.9,220.0 348.6,218.7 349.4,217.4 350.1,216.4 350.9,215.4 351.6,214.5 352.4,213.6 353.1,212.8 353.9,212.0 354.6,211.2 355.4,210.5 356.1,209.8 356.9,209.2 357.6,208.6 358.4,208.0 359.1,207.4 359.9,206.9 360.6,206.3 361.4,205.8 362.1,205.3 362.9,204.9 363.6,204.4 364.4,204.0 365.1,203.5 365.9,203.1 366.6,202.7 367.3,202.3 368.1,201.9 368.8,201.6 369.6,201.2 370.3,200.8 371.1,200.5 371.8,200.1 372.6,199.7 373.3,199.4 374.1,199.0 374.8,198.7 375.6,198.3 376.3,198.0 377.1,197.7 377.8,197.3 378.6,197.0 379.3,196.7 380.1,196.4 380.8,196.1 381.6,195.8 382.3,195.5 383.1,195.2 383.8,195.0 384.6,194.7 385.3,194.5 386.1,194.3 386.8,194.1 387.6,193.8 388.3,193.7 389.1,193.5 389.8,193.3 390.6,193.2 391.3,193.0 392.1,192.8 392.8,192.7 393.6,192.6 394.3,192.4 395.1,192.3 395.8,192.2 396.6,192.0 397.3,191.9 398.1,191.8 398.8,191.7 399.6,191.6 400.3,191.4 401.1,191.3 401.8,191.2 402.6,191.1 403.3,191.0 404.1,190.9 404.8,190.8 405.6,190.7 406.3,190.6 407.1,190.5 407.8,190.4 408.6,190.3 409.3,190.2 410.1,190.1 410.8,190.0 411.6,189.9 412.3,189.8 413.1,189.7 413.8,189.6 414.6,189.5 415.3,189.4 416.1,189.4 416.8,189.3 417.6,189.2 418.3,189.1 419.1,189.0 419.8,188.9 420.6,188.9 421.3,188.8 422.1,188.7 422.8,188.7 423.6,188.6 424.3,188.5 425.1,188.5 425.8,188.4 426.6,188.4 427.3,188.3 428.1,188.3 428.8,188.2 429.6,188.2 430.3,188.2 431.1,188.1 431.8,188.1 432.6,188.0 433.3,188.0 434.1,188.0 434.8,187.9 435.6,187.9 436.3,187.8 437.1,187.8 437.8,187.8 438.6,187.7 439.3,187.7 440.1,187.7 440.8,187.6 441.5,187.6 442.3,187.6 443.0,187.6 443.8,187.5 444.5,187.5 445.3,187.5 446.0,187.5 446.8,187.5 447.5,187.4 448.3,187.4 449.0,187.4 449.8,187.4 450.5,187.4 451.3,187.4 452.0,187.4 452.8,187.4 453.5,187.3 454.3,187.3 455.0,187.3 455.8,187.3 456.5,187.3 457.3,187.3 458.0,187.3 458.8,187.3 459.5,187.3 460.3,187.3 461.0,187.2 461.8,187.2 462.5,187.2 463.3,187.2 464.0,187.2 464.8,187.2 465.5,187.2 466.3,187.2 467.0,187.2 467.8,187.2 468.5,187.2 469.3,187.2 470.0,187.1 470.8,187.1 471.5,187.1 472.3,187.1 473.0,187.1 473.8,187.1 474.5,187.1 475.3,187.1 476.0,187.1 476.8,187.1 477.5,187.1 478.3,187.1 479.0,187.1 479.8,187.1 480.5,187.1 481.3,187.1 482.0,187.0 482.8,187.0 483.5,187.0 484.3,187.0 485.0,187.0 485.8,187.0 486.5,187.0 487.3,187.0 488.0,187.0 488.8,187.0 489.5,187.0 490.3,187.0 491.0,187.0 491.8,187.0 492.5,187.0 493.3,187.0 494.0,187.0 494.8,187.0 495.5,187.0 496.3,187.0 497.0,187.0" fill="none" stroke="#d2442a" stroke-width="2.0" stroke-opacity="1" stroke-linejoin="round"/>
</g>
<circle cx="497.69" cy="182.47" r="3.1" fill="#f47a55"/>
<circle cx="497.69" cy="187.00" r="3.1" fill="#d2442a"/>
<circle cx="497.69" cy="197.09" r="3.1" fill="#2a7fc1"/>
<circle cx="517.1" cy="266.40" r="2.5" fill="#1f77b4"/>
<text transform="translate(525.10,268.60) scale(1,1.1)" x="0" y="0" font-family='"Liberation Sans", sans-serif' font-size="6.3" fill="#3a3a3a" text-anchor="start">Model1</text>
<circle cx="517.1" cy="276.05" r="2.5" fill="#ff7f50"/>
<text transform="translate(525.10,278.25) scale(1,1.1)" x="0" y="0" font-family='"Liberation Sans", sans-serif' font-size="6.3" fill="#3a3a3a" text-anchor="start">Model2</text>
<circle cx="517.1" cy="285.70" r="2.5" fill="#d4441c"/>
<text transform="translate(525.10,287.90) scale(1,1.1)" x="0" y="0" font-family='"Liberation Sans", sans-serif' font-size="6.3" fill="#3a3a3a" text-anchor="start">Model3</text>
<line x1="594.5" y1="284.60" x2="737" y2="284.60" stroke="#d9d9d9" stroke-width="0.8"/>
<text transform="translate(586.40,288.10) scale(0.93,1.12)" x="0" y="0" font-family='"Liberation Sans", sans-serif' font-size="9.2" fill="#a6a6a6" text-anchor="end">0</text>
<line x1="594.5" y1="262.28" x2="737" y2="262.28" stroke="#d9d9d9" stroke-width="0.8"/>
<text transform="translate(586.40,265.78) scale(0.93,1.12)" x="0" y="0" font-family='"Liberation Sans", sans-serif' font-size="9.2" fill="#a6a6a6" text-anchor="end">0.2</text>
<line x1="594.5" y1="239.96" x2="737" y2="239.96" stroke="#d9d9d9" stroke-width="0.8"/>
<text transform="translate(586.40,243.46) scale(0.93,1.12)" x="0" y="0" font-family='"Liberation Sans", sans-serif' font-size="9.2" fill="#a6a6a6" text-anchor="end">0.4</text>
<line x1="594.5" y1="217.64" x2="737" y2="217.64" stroke="#d9d9d9" stroke-width="0.8"/>
<text transform="translate(586.40,221.14) scale(0.93,1.12)" x="0" y="0" font-family='"Liberation Sans", sans-serif' font-size="9.2" fill="#a6a6a6" text-anchor="end">0.6</text>
<line x1="594.5" y1="195.32" x2="737" y2="195.32" stroke="#d9d9d9" stroke-width="0.8"/>
<text transform="translate(586.40,198.82) scale(0.93,1.12)" x="0" y="0" font-family='"Liberation Sans", sans-serif' font-size="9.2" fill="#a6a6a6" text-anchor="end">0.8</text>
<line x1="594.5" y1="173.00" x2="737" y2="173.00" stroke="#d9d9d9" stroke-width="0.8"/>
<text transform="translate(586.40,176.50) scale(0.93,1.12)" x="0" y="0" font-family='"Liberation Sans", sans-serif' font-size="9.2" fill="#a6a6a6" text-anchor="end">1</text>
<rect x="622.3" y="178.58" width="25.3" height="106.02" fill="#e2efda"/>
<text x="634.8" y="172.9" font-family='"Liberation Sans", sans-serif' font-size="10.2" fill="#666666" font-weight="normal" text-anchor="middle" >0.950</text>
<rect x="654.9" y="178.69" width="25.3" height="105.91" fill="#b4c7e7"/>
<text x="667.4" y="172.9" font-family='"Liberation Sans", sans-serif' font-size="10.2" fill="#666666" font-weight="normal" text-anchor="middle" >0.949</text>
<rect x="687.3" y="178.25" width="25.3" height="106.35" fill="#ccccff"/>
<text x="699.8" y="172.9" font-family='"Liberation Sans", sans-serif' font-size="10.2" fill="#666666" font-weight="normal" text-anchor="middle" >0.953</text>
<text x="612.4" y="155.2" font-family='"Liberation Sans", sans-serif' font-size="11.5" fill="#5e5e5e" font-weight="bold" text-anchor="start" >Model Performance</text>
<text x="0" y="0" transform="translate(572.9,246.4) rotate(-90)" font-family='"Liberation Sans", sans-serif' font-size="11.5" fill="#5e5e5e">PRC-AUC</text>
<rect x="584.8" y="296.7" width="4.8" height="4.8" fill="#e2efda"/>
<text x="591.6" y="302.3" font-family='"Liberation Sans", sans-serif' font-size="9.8" fill="#7f7f7f" font-weight="normal" text-anchor="start" >Holdout</text>
<rect x="631.6" y="296.7" width="4.8" height="4.8" fill="#b4c7e7"/>
<text x="638.5" y="302.3" font-family='"Liberation Sans", sans-serif' font-size="9.8" fill="#7f7f7f" font-weight="normal" text-anchor="start" >Validation</text>
<rect x="686.7" y="296.7" width="4.8" height="4.8" fill="#ccccff"/>
<text x="694.1" y="302.3" font-family='"Liberation Sans", sans-serif' font-size="9.8" fill="#7f7f7f" font-weight="normal" text-anchor="start" >Test</text>
<text transform="translate(-0.5,18.8) scale(0.9,1)" x="0" y="0" font-family='"Liberation Sans", sans-serif' font-size="18" font-weight="bold" fill="#000">(a)</text>
<rect x="0" y="130.7" width="20.4" height="21" fill="#fff"/>
<text transform="translate(-0.5,148.2) scale(0.9,1)" x="0" y="0" font-family='"Liberation Sans", sans-serif' font-size="18" font-weight="bold" fill="#000">(b)</text>
</svg>
</body></html>
